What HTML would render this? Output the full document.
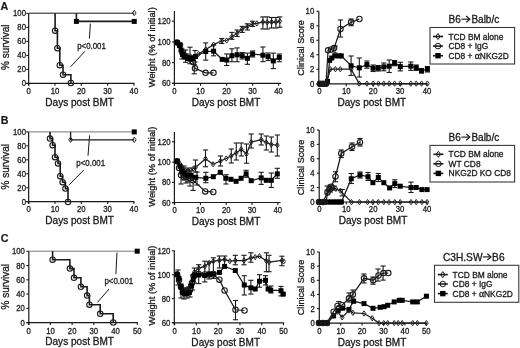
<!DOCTYPE html>
<html><head><meta charset="utf-8"><style>
html,body{margin:0;padding:0;background:#fff;}
svg{display:block;will-change:transform;}
text{font-family:"Liberation Sans", sans-serif;}
</style></head><body>
<svg width="520" height="348" viewBox="0 0 520 348" font-family='"Liberation Sans", sans-serif'>
<rect width="520" height="348" fill="#fff"/>
<line x1="28.65" y1="13.40" x2="28.65" y2="85.80" stroke="#1a1a1a" stroke-width="1.2" />
<line x1="26.25" y1="83.40" x2="134.50" y2="83.40" stroke="#1a1a1a" stroke-width="1.2" />
<line x1="26.25" y1="83.40" x2="28.65" y2="83.40" stroke="#1a1a1a" stroke-width="1.1" />
<text transform="translate(25.95 86.40) scale(0.92 1)" font-size="8.4" text-anchor="end" font-weight="normal" fill="#1a1a1a" stroke="#1a1a1a" stroke-width="0.3" >0</text>
<line x1="26.25" y1="69.40" x2="28.65" y2="69.40" stroke="#1a1a1a" stroke-width="1.1" />
<text transform="translate(25.95 72.40) scale(0.92 1)" font-size="8.4" text-anchor="end" font-weight="normal" fill="#1a1a1a" stroke="#1a1a1a" stroke-width="0.3" >20</text>
<line x1="26.25" y1="55.40" x2="28.65" y2="55.40" stroke="#1a1a1a" stroke-width="1.1" />
<text transform="translate(25.95 58.40) scale(0.92 1)" font-size="8.4" text-anchor="end" font-weight="normal" fill="#1a1a1a" stroke="#1a1a1a" stroke-width="0.3" >40</text>
<line x1="26.25" y1="41.40" x2="28.65" y2="41.40" stroke="#1a1a1a" stroke-width="1.1" />
<text transform="translate(25.95 44.40) scale(0.92 1)" font-size="8.4" text-anchor="end" font-weight="normal" fill="#1a1a1a" stroke="#1a1a1a" stroke-width="0.3" >60</text>
<line x1="26.25" y1="27.40" x2="28.65" y2="27.40" stroke="#1a1a1a" stroke-width="1.1" />
<text transform="translate(25.95 30.40) scale(0.92 1)" font-size="8.4" text-anchor="end" font-weight="normal" fill="#1a1a1a" stroke="#1a1a1a" stroke-width="0.3" >80</text>
<line x1="26.25" y1="13.40" x2="28.65" y2="13.40" stroke="#1a1a1a" stroke-width="1.1" />
<text transform="translate(25.95 16.40) scale(0.92 1)" font-size="8.4" text-anchor="end" font-weight="normal" fill="#1a1a1a" stroke="#1a1a1a" stroke-width="0.3" >100</text>
<line x1="28.70" y1="83.40" x2="28.70" y2="85.80" stroke="#1a1a1a" stroke-width="1.1" />
<text transform="translate(28.70 93.60) scale(0.92 1)" font-size="8.4" text-anchor="middle" font-weight="normal" fill="#1a1a1a" stroke="#1a1a1a" stroke-width="0.3" >0</text>
<line x1="55.00" y1="83.40" x2="55.00" y2="85.80" stroke="#1a1a1a" stroke-width="1.1" />
<text transform="translate(55.00 93.60) scale(0.92 1)" font-size="8.4" text-anchor="middle" font-weight="normal" fill="#1a1a1a" stroke="#1a1a1a" stroke-width="0.3" >10</text>
<line x1="81.30" y1="83.40" x2="81.30" y2="85.80" stroke="#1a1a1a" stroke-width="1.1" />
<text transform="translate(81.30 93.60) scale(0.92 1)" font-size="8.4" text-anchor="middle" font-weight="normal" fill="#1a1a1a" stroke="#1a1a1a" stroke-width="0.3" >20</text>
<line x1="107.60" y1="83.40" x2="107.60" y2="85.80" stroke="#1a1a1a" stroke-width="1.1" />
<text transform="translate(107.60 93.60) scale(0.92 1)" font-size="8.4" text-anchor="middle" font-weight="normal" fill="#1a1a1a" stroke="#1a1a1a" stroke-width="0.3" >30</text>
<line x1="133.90" y1="83.40" x2="133.90" y2="85.80" stroke="#1a1a1a" stroke-width="1.1" />
<text transform="translate(133.90 93.60) scale(0.92 1)" font-size="8.4" text-anchor="middle" font-weight="normal" fill="#1a1a1a" stroke="#1a1a1a" stroke-width="0.3" >40</text>
<line x1="28.65" y1="131.90" x2="28.65" y2="204.10" stroke="#1a1a1a" stroke-width="1.2" />
<line x1="26.25" y1="201.70" x2="134.50" y2="201.70" stroke="#1a1a1a" stroke-width="1.2" />
<line x1="26.25" y1="201.70" x2="28.65" y2="201.70" stroke="#1a1a1a" stroke-width="1.1" />
<text transform="translate(25.95 204.70) scale(0.92 1)" font-size="8.4" text-anchor="end" font-weight="normal" fill="#1a1a1a" stroke="#1a1a1a" stroke-width="0.3" >0</text>
<line x1="26.25" y1="187.74" x2="28.65" y2="187.74" stroke="#1a1a1a" stroke-width="1.1" />
<text transform="translate(25.95 190.74) scale(0.92 1)" font-size="8.4" text-anchor="end" font-weight="normal" fill="#1a1a1a" stroke="#1a1a1a" stroke-width="0.3" >20</text>
<line x1="26.25" y1="173.78" x2="28.65" y2="173.78" stroke="#1a1a1a" stroke-width="1.1" />
<text transform="translate(25.95 176.78) scale(0.92 1)" font-size="8.4" text-anchor="end" font-weight="normal" fill="#1a1a1a" stroke="#1a1a1a" stroke-width="0.3" >40</text>
<line x1="26.25" y1="159.82" x2="28.65" y2="159.82" stroke="#1a1a1a" stroke-width="1.1" />
<text transform="translate(25.95 162.82) scale(0.92 1)" font-size="8.4" text-anchor="end" font-weight="normal" fill="#1a1a1a" stroke="#1a1a1a" stroke-width="0.3" >60</text>
<line x1="26.25" y1="145.86" x2="28.65" y2="145.86" stroke="#1a1a1a" stroke-width="1.1" />
<text transform="translate(25.95 148.86) scale(0.92 1)" font-size="8.4" text-anchor="end" font-weight="normal" fill="#1a1a1a" stroke="#1a1a1a" stroke-width="0.3" >80</text>
<line x1="26.25" y1="131.90" x2="28.65" y2="131.90" stroke="#1a1a1a" stroke-width="1.1" />
<text transform="translate(25.95 134.90) scale(0.92 1)" font-size="8.4" text-anchor="end" font-weight="normal" fill="#1a1a1a" stroke="#1a1a1a" stroke-width="0.3" >100</text>
<line x1="28.70" y1="201.70" x2="28.70" y2="204.10" stroke="#1a1a1a" stroke-width="1.1" />
<text transform="translate(28.70 211.90) scale(0.92 1)" font-size="8.4" text-anchor="middle" font-weight="normal" fill="#1a1a1a" stroke="#1a1a1a" stroke-width="0.3" >0</text>
<line x1="55.00" y1="201.70" x2="55.00" y2="204.10" stroke="#1a1a1a" stroke-width="1.1" />
<text transform="translate(55.00 211.90) scale(0.92 1)" font-size="8.4" text-anchor="middle" font-weight="normal" fill="#1a1a1a" stroke="#1a1a1a" stroke-width="0.3" >10</text>
<line x1="81.30" y1="201.70" x2="81.30" y2="204.10" stroke="#1a1a1a" stroke-width="1.1" />
<text transform="translate(81.30 211.90) scale(0.92 1)" font-size="8.4" text-anchor="middle" font-weight="normal" fill="#1a1a1a" stroke="#1a1a1a" stroke-width="0.3" >20</text>
<line x1="107.60" y1="201.70" x2="107.60" y2="204.10" stroke="#1a1a1a" stroke-width="1.1" />
<text transform="translate(107.60 211.90) scale(0.92 1)" font-size="8.4" text-anchor="middle" font-weight="normal" fill="#1a1a1a" stroke="#1a1a1a" stroke-width="0.3" >30</text>
<line x1="133.90" y1="201.70" x2="133.90" y2="204.10" stroke="#1a1a1a" stroke-width="1.1" />
<text transform="translate(133.90 211.90) scale(0.92 1)" font-size="8.4" text-anchor="middle" font-weight="normal" fill="#1a1a1a" stroke="#1a1a1a" stroke-width="0.3" >40</text>
<line x1="28.80" y1="251.30" x2="28.80" y2="325.00" stroke="#1a1a1a" stroke-width="1.2" />
<line x1="26.40" y1="322.60" x2="137.90" y2="322.60" stroke="#1a1a1a" stroke-width="1.2" />
<line x1="26.40" y1="322.60" x2="28.80" y2="322.60" stroke="#1a1a1a" stroke-width="1.1" />
<text transform="translate(24.90 325.60) scale(0.92 1)" font-size="8.4" text-anchor="end" font-weight="normal" fill="#1a1a1a" stroke="#1a1a1a" stroke-width="0.3" >0</text>
<line x1="26.40" y1="308.34" x2="28.80" y2="308.34" stroke="#1a1a1a" stroke-width="1.1" />
<text transform="translate(24.90 311.34) scale(0.92 1)" font-size="8.4" text-anchor="end" font-weight="normal" fill="#1a1a1a" stroke="#1a1a1a" stroke-width="0.3" >20</text>
<line x1="26.40" y1="294.08" x2="28.80" y2="294.08" stroke="#1a1a1a" stroke-width="1.1" />
<text transform="translate(24.90 297.08) scale(0.92 1)" font-size="8.4" text-anchor="end" font-weight="normal" fill="#1a1a1a" stroke="#1a1a1a" stroke-width="0.3" >40</text>
<line x1="26.40" y1="279.82" x2="28.80" y2="279.82" stroke="#1a1a1a" stroke-width="1.1" />
<text transform="translate(24.90 282.82) scale(0.92 1)" font-size="8.4" text-anchor="end" font-weight="normal" fill="#1a1a1a" stroke="#1a1a1a" stroke-width="0.3" >60</text>
<line x1="26.40" y1="265.56" x2="28.80" y2="265.56" stroke="#1a1a1a" stroke-width="1.1" />
<text transform="translate(24.90 268.56) scale(0.92 1)" font-size="8.4" text-anchor="end" font-weight="normal" fill="#1a1a1a" stroke="#1a1a1a" stroke-width="0.3" >80</text>
<line x1="26.40" y1="251.30" x2="28.80" y2="251.30" stroke="#1a1a1a" stroke-width="1.1" />
<text transform="translate(24.90 254.30) scale(0.92 1)" font-size="8.4" text-anchor="end" font-weight="normal" fill="#1a1a1a" stroke="#1a1a1a" stroke-width="0.3" >100</text>
<line x1="28.70" y1="322.60" x2="28.70" y2="325.00" stroke="#1a1a1a" stroke-width="1.1" />
<text transform="translate(28.70 333.50) scale(0.92 1)" font-size="8.4" text-anchor="middle" font-weight="normal" fill="#1a1a1a" stroke="#1a1a1a" stroke-width="0.3" >0</text>
<line x1="50.42" y1="322.60" x2="50.42" y2="325.00" stroke="#1a1a1a" stroke-width="1.1" />
<text transform="translate(50.42 333.50) scale(0.92 1)" font-size="8.4" text-anchor="middle" font-weight="normal" fill="#1a1a1a" stroke="#1a1a1a" stroke-width="0.3" >10</text>
<line x1="72.14" y1="322.60" x2="72.14" y2="325.00" stroke="#1a1a1a" stroke-width="1.1" />
<text transform="translate(72.14 333.50) scale(0.92 1)" font-size="8.4" text-anchor="middle" font-weight="normal" fill="#1a1a1a" stroke="#1a1a1a" stroke-width="0.3" >20</text>
<line x1="93.86" y1="322.60" x2="93.86" y2="325.00" stroke="#1a1a1a" stroke-width="1.1" />
<text transform="translate(93.86 333.50) scale(0.92 1)" font-size="8.4" text-anchor="middle" font-weight="normal" fill="#1a1a1a" stroke="#1a1a1a" stroke-width="0.3" >30</text>
<line x1="115.58" y1="322.60" x2="115.58" y2="325.00" stroke="#1a1a1a" stroke-width="1.1" />
<text transform="translate(115.58 333.50) scale(0.92 1)" font-size="8.4" text-anchor="middle" font-weight="normal" fill="#1a1a1a" stroke="#1a1a1a" stroke-width="0.3" >40</text>
<line x1="137.30" y1="322.60" x2="137.30" y2="325.00" stroke="#1a1a1a" stroke-width="1.1" />
<text transform="translate(137.30 333.50) scale(0.92 1)" font-size="8.4" text-anchor="middle" font-weight="normal" fill="#1a1a1a" stroke="#1a1a1a" stroke-width="0.3" >50</text>
<line x1="174.40" y1="10.90" x2="174.40" y2="85.80" stroke="#1a1a1a" stroke-width="1.2" />
<line x1="172.00" y1="83.40" x2="281.10" y2="83.40" stroke="#1a1a1a" stroke-width="1.2" />
<line x1="172.00" y1="83.30" x2="174.40" y2="83.30" stroke="#1a1a1a" stroke-width="1.1" />
<text transform="translate(170.50 86.30) scale(0.92 1)" font-size="8.4" text-anchor="end" font-weight="normal" fill="#1a1a1a" stroke="#1a1a1a" stroke-width="0.3" >60</text>
<line x1="172.00" y1="62.60" x2="174.40" y2="62.60" stroke="#1a1a1a" stroke-width="1.1" />
<text transform="translate(170.50 65.60) scale(0.92 1)" font-size="8.4" text-anchor="end" font-weight="normal" fill="#1a1a1a" stroke="#1a1a1a" stroke-width="0.3" >80</text>
<line x1="172.00" y1="41.90" x2="174.40" y2="41.90" stroke="#1a1a1a" stroke-width="1.1" />
<text transform="translate(170.50 44.90) scale(0.92 1)" font-size="8.4" text-anchor="end" font-weight="normal" fill="#1a1a1a" stroke="#1a1a1a" stroke-width="0.3" >100</text>
<line x1="172.00" y1="21.20" x2="174.40" y2="21.20" stroke="#1a1a1a" stroke-width="1.1" />
<text transform="translate(170.50 24.20) scale(0.92 1)" font-size="8.4" text-anchor="end" font-weight="normal" fill="#1a1a1a" stroke="#1a1a1a" stroke-width="0.3" >120</text>
<line x1="174.50" y1="83.40" x2="174.50" y2="85.80" stroke="#1a1a1a" stroke-width="1.1" />
<text transform="translate(174.50 93.60) scale(0.92 1)" font-size="8.4" text-anchor="middle" font-weight="normal" fill="#1a1a1a" stroke="#1a1a1a" stroke-width="0.3" >0</text>
<line x1="200.53" y1="83.40" x2="200.53" y2="85.80" stroke="#1a1a1a" stroke-width="1.1" />
<text transform="translate(200.53 93.60) scale(0.92 1)" font-size="8.4" text-anchor="middle" font-weight="normal" fill="#1a1a1a" stroke="#1a1a1a" stroke-width="0.3" >10</text>
<line x1="226.55" y1="83.40" x2="226.55" y2="85.80" stroke="#1a1a1a" stroke-width="1.1" />
<text transform="translate(226.55 93.60) scale(0.92 1)" font-size="8.4" text-anchor="middle" font-weight="normal" fill="#1a1a1a" stroke="#1a1a1a" stroke-width="0.3" >20</text>
<line x1="252.58" y1="83.40" x2="252.58" y2="85.80" stroke="#1a1a1a" stroke-width="1.1" />
<text transform="translate(252.58 93.60) scale(0.92 1)" font-size="8.4" text-anchor="middle" font-weight="normal" fill="#1a1a1a" stroke="#1a1a1a" stroke-width="0.3" >30</text>
<line x1="278.60" y1="83.40" x2="278.60" y2="85.80" stroke="#1a1a1a" stroke-width="1.1" />
<text transform="translate(278.60 93.60) scale(0.92 1)" font-size="8.4" text-anchor="middle" font-weight="normal" fill="#1a1a1a" stroke="#1a1a1a" stroke-width="0.3" >40</text>
<line x1="174.40" y1="132.10" x2="174.40" y2="204.90" stroke="#1a1a1a" stroke-width="1.2" />
<line x1="172.00" y1="202.50" x2="280.60" y2="202.50" stroke="#1a1a1a" stroke-width="1.2" />
<line x1="172.00" y1="202.70" x2="174.40" y2="202.70" stroke="#1a1a1a" stroke-width="1.1" />
<text transform="translate(170.50 205.70) scale(0.92 1)" font-size="8.4" text-anchor="end" font-weight="normal" fill="#1a1a1a" stroke="#1a1a1a" stroke-width="0.3" >60</text>
<line x1="172.00" y1="182.40" x2="174.40" y2="182.40" stroke="#1a1a1a" stroke-width="1.1" />
<text transform="translate(170.50 185.40) scale(0.92 1)" font-size="8.4" text-anchor="end" font-weight="normal" fill="#1a1a1a" stroke="#1a1a1a" stroke-width="0.3" >80</text>
<line x1="172.00" y1="162.10" x2="174.40" y2="162.10" stroke="#1a1a1a" stroke-width="1.1" />
<text transform="translate(170.50 165.10) scale(0.92 1)" font-size="8.4" text-anchor="end" font-weight="normal" fill="#1a1a1a" stroke="#1a1a1a" stroke-width="0.3" >100</text>
<line x1="172.00" y1="141.80" x2="174.40" y2="141.80" stroke="#1a1a1a" stroke-width="1.1" />
<text transform="translate(170.50 144.80) scale(0.92 1)" font-size="8.4" text-anchor="end" font-weight="normal" fill="#1a1a1a" stroke="#1a1a1a" stroke-width="0.3" >120</text>
<line x1="174.60" y1="202.50" x2="174.60" y2="204.90" stroke="#1a1a1a" stroke-width="1.1" />
<text transform="translate(174.60 212.70) scale(0.92 1)" font-size="8.4" text-anchor="middle" font-weight="normal" fill="#1a1a1a" stroke="#1a1a1a" stroke-width="0.3" >0</text>
<line x1="200.40" y1="202.50" x2="200.40" y2="204.90" stroke="#1a1a1a" stroke-width="1.1" />
<text transform="translate(200.40 212.70) scale(0.92 1)" font-size="8.4" text-anchor="middle" font-weight="normal" fill="#1a1a1a" stroke="#1a1a1a" stroke-width="0.3" >10</text>
<line x1="226.20" y1="202.50" x2="226.20" y2="204.90" stroke="#1a1a1a" stroke-width="1.1" />
<text transform="translate(226.20 212.70) scale(0.92 1)" font-size="8.4" text-anchor="middle" font-weight="normal" fill="#1a1a1a" stroke="#1a1a1a" stroke-width="0.3" >20</text>
<line x1="252.00" y1="202.50" x2="252.00" y2="204.90" stroke="#1a1a1a" stroke-width="1.1" />
<text transform="translate(252.00 212.70) scale(0.92 1)" font-size="8.4" text-anchor="middle" font-weight="normal" fill="#1a1a1a" stroke="#1a1a1a" stroke-width="0.3" >30</text>
<line x1="277.80" y1="202.50" x2="277.80" y2="204.90" stroke="#1a1a1a" stroke-width="1.1" />
<text transform="translate(277.80 212.70) scale(0.92 1)" font-size="8.4" text-anchor="middle" font-weight="normal" fill="#1a1a1a" stroke="#1a1a1a" stroke-width="0.3" >40</text>
<line x1="174.30" y1="250.40" x2="174.30" y2="325.20" stroke="#1a1a1a" stroke-width="1.2" />
<line x1="171.90" y1="322.80" x2="284.10" y2="322.80" stroke="#1a1a1a" stroke-width="1.2" />
<line x1="171.90" y1="322.50" x2="174.30" y2="322.50" stroke="#1a1a1a" stroke-width="1.1" />
<text transform="translate(170.40 325.50) scale(0.92 1)" font-size="8.4" text-anchor="end" font-weight="normal" fill="#1a1a1a" stroke="#1a1a1a" stroke-width="0.3" >60</text>
<line x1="171.90" y1="298.60" x2="174.30" y2="298.60" stroke="#1a1a1a" stroke-width="1.1" />
<text transform="translate(170.40 301.60) scale(0.92 1)" font-size="8.4" text-anchor="end" font-weight="normal" fill="#1a1a1a" stroke="#1a1a1a" stroke-width="0.3" >80</text>
<line x1="171.90" y1="274.70" x2="174.30" y2="274.70" stroke="#1a1a1a" stroke-width="1.1" />
<text transform="translate(170.40 277.70) scale(0.92 1)" font-size="8.4" text-anchor="end" font-weight="normal" fill="#1a1a1a" stroke="#1a1a1a" stroke-width="0.3" >100</text>
<line x1="171.90" y1="250.80" x2="174.30" y2="250.80" stroke="#1a1a1a" stroke-width="1.1" />
<text transform="translate(170.40 253.80) scale(0.92 1)" font-size="8.4" text-anchor="end" font-weight="normal" fill="#1a1a1a" stroke="#1a1a1a" stroke-width="0.3" >120</text>
<line x1="174.60" y1="322.80" x2="174.60" y2="325.20" stroke="#1a1a1a" stroke-width="1.1" />
<text transform="translate(174.60 333.70) scale(0.92 1)" font-size="8.4" text-anchor="middle" font-weight="normal" fill="#1a1a1a" stroke="#1a1a1a" stroke-width="0.3" >0</text>
<line x1="196.38" y1="322.80" x2="196.38" y2="325.20" stroke="#1a1a1a" stroke-width="1.1" />
<text transform="translate(196.38 333.70) scale(0.92 1)" font-size="8.4" text-anchor="middle" font-weight="normal" fill="#1a1a1a" stroke="#1a1a1a" stroke-width="0.3" >10</text>
<line x1="218.16" y1="322.80" x2="218.16" y2="325.20" stroke="#1a1a1a" stroke-width="1.1" />
<text transform="translate(218.16 333.70) scale(0.92 1)" font-size="8.4" text-anchor="middle" font-weight="normal" fill="#1a1a1a" stroke="#1a1a1a" stroke-width="0.3" >20</text>
<line x1="239.94" y1="322.80" x2="239.94" y2="325.20" stroke="#1a1a1a" stroke-width="1.1" />
<text transform="translate(239.94 333.70) scale(0.92 1)" font-size="8.4" text-anchor="middle" font-weight="normal" fill="#1a1a1a" stroke="#1a1a1a" stroke-width="0.3" >30</text>
<line x1="261.72" y1="322.80" x2="261.72" y2="325.20" stroke="#1a1a1a" stroke-width="1.1" />
<text transform="translate(261.72 333.70) scale(0.92 1)" font-size="8.4" text-anchor="middle" font-weight="normal" fill="#1a1a1a" stroke="#1a1a1a" stroke-width="0.3" >40</text>
<line x1="283.50" y1="322.80" x2="283.50" y2="325.20" stroke="#1a1a1a" stroke-width="1.1" />
<text transform="translate(283.50 333.70) scale(0.92 1)" font-size="8.4" text-anchor="middle" font-weight="normal" fill="#1a1a1a" stroke="#1a1a1a" stroke-width="0.3" >50</text>
<line x1="318.80" y1="11.30" x2="318.80" y2="86.20" stroke="#1a1a1a" stroke-width="1.2" />
<line x1="316.40" y1="83.80" x2="427.60" y2="83.80" stroke="#1a1a1a" stroke-width="1.2" />
<line x1="316.40" y1="83.80" x2="318.80" y2="83.80" stroke="#1a1a1a" stroke-width="1.1" />
<text transform="translate(314.20 86.80) scale(0.92 1)" font-size="8.4" text-anchor="end" font-weight="normal" fill="#1a1a1a" stroke="#1a1a1a" stroke-width="0.3" >0</text>
<line x1="316.40" y1="69.30" x2="318.80" y2="69.30" stroke="#1a1a1a" stroke-width="1.1" />
<text transform="translate(314.20 72.30) scale(0.92 1)" font-size="8.4" text-anchor="end" font-weight="normal" fill="#1a1a1a" stroke="#1a1a1a" stroke-width="0.3" >2</text>
<line x1="316.40" y1="54.80" x2="318.80" y2="54.80" stroke="#1a1a1a" stroke-width="1.1" />
<text transform="translate(314.20 57.80) scale(0.92 1)" font-size="8.4" text-anchor="end" font-weight="normal" fill="#1a1a1a" stroke="#1a1a1a" stroke-width="0.3" >4</text>
<line x1="316.40" y1="40.30" x2="318.80" y2="40.30" stroke="#1a1a1a" stroke-width="1.1" />
<text transform="translate(314.20 43.30) scale(0.92 1)" font-size="8.4" text-anchor="end" font-weight="normal" fill="#1a1a1a" stroke="#1a1a1a" stroke-width="0.3" >6</text>
<line x1="316.40" y1="25.80" x2="318.80" y2="25.80" stroke="#1a1a1a" stroke-width="1.1" />
<text transform="translate(314.20 28.80) scale(0.92 1)" font-size="8.4" text-anchor="end" font-weight="normal" fill="#1a1a1a" stroke="#1a1a1a" stroke-width="0.3" >8</text>
<line x1="316.40" y1="11.30" x2="318.80" y2="11.30" stroke="#1a1a1a" stroke-width="1.1" />
<text transform="translate(314.20 14.30) scale(0.92 1)" font-size="8.4" text-anchor="end" font-weight="normal" fill="#1a1a1a" stroke="#1a1a1a" stroke-width="0.3" >10</text>
<line x1="319.30" y1="83.80" x2="319.30" y2="86.20" stroke="#1a1a1a" stroke-width="1.1" />
<text transform="translate(319.30 94.00) scale(0.92 1)" font-size="8.4" text-anchor="middle" font-weight="normal" fill="#1a1a1a" stroke="#1a1a1a" stroke-width="0.3" >0</text>
<line x1="346.23" y1="83.80" x2="346.23" y2="86.20" stroke="#1a1a1a" stroke-width="1.1" />
<text transform="translate(346.23 94.00) scale(0.92 1)" font-size="8.4" text-anchor="middle" font-weight="normal" fill="#1a1a1a" stroke="#1a1a1a" stroke-width="0.3" >10</text>
<line x1="373.15" y1="83.80" x2="373.15" y2="86.20" stroke="#1a1a1a" stroke-width="1.1" />
<text transform="translate(373.15 94.00) scale(0.92 1)" font-size="8.4" text-anchor="middle" font-weight="normal" fill="#1a1a1a" stroke="#1a1a1a" stroke-width="0.3" >20</text>
<line x1="400.07" y1="83.80" x2="400.07" y2="86.20" stroke="#1a1a1a" stroke-width="1.1" />
<text transform="translate(400.07 94.00) scale(0.92 1)" font-size="8.4" text-anchor="middle" font-weight="normal" fill="#1a1a1a" stroke="#1a1a1a" stroke-width="0.3" >30</text>
<line x1="427.00" y1="83.80" x2="427.00" y2="86.20" stroke="#1a1a1a" stroke-width="1.1" />
<text transform="translate(427.00 94.00) scale(0.92 1)" font-size="8.4" text-anchor="middle" font-weight="normal" fill="#1a1a1a" stroke="#1a1a1a" stroke-width="0.3" >40</text>
<line x1="319.20" y1="130.00" x2="319.20" y2="204.40" stroke="#1a1a1a" stroke-width="1.2" />
<line x1="316.80" y1="202.00" x2="427.60" y2="202.00" stroke="#1a1a1a" stroke-width="1.2" />
<line x1="316.80" y1="201.90" x2="319.20" y2="201.90" stroke="#1a1a1a" stroke-width="1.1" />
<text transform="translate(314.60 204.90) scale(0.92 1)" font-size="8.4" text-anchor="end" font-weight="normal" fill="#1a1a1a" stroke="#1a1a1a" stroke-width="0.3" >0</text>
<line x1="316.80" y1="187.52" x2="319.20" y2="187.52" stroke="#1a1a1a" stroke-width="1.1" />
<text transform="translate(314.60 190.52) scale(0.92 1)" font-size="8.4" text-anchor="end" font-weight="normal" fill="#1a1a1a" stroke="#1a1a1a" stroke-width="0.3" >2</text>
<line x1="316.80" y1="173.14" x2="319.20" y2="173.14" stroke="#1a1a1a" stroke-width="1.1" />
<text transform="translate(314.60 176.14) scale(0.92 1)" font-size="8.4" text-anchor="end" font-weight="normal" fill="#1a1a1a" stroke="#1a1a1a" stroke-width="0.3" >4</text>
<line x1="316.80" y1="158.76" x2="319.20" y2="158.76" stroke="#1a1a1a" stroke-width="1.1" />
<text transform="translate(314.60 161.76) scale(0.92 1)" font-size="8.4" text-anchor="end" font-weight="normal" fill="#1a1a1a" stroke="#1a1a1a" stroke-width="0.3" >6</text>
<line x1="316.80" y1="144.38" x2="319.20" y2="144.38" stroke="#1a1a1a" stroke-width="1.1" />
<text transform="translate(314.60 147.38) scale(0.92 1)" font-size="8.4" text-anchor="end" font-weight="normal" fill="#1a1a1a" stroke="#1a1a1a" stroke-width="0.3" >8</text>
<line x1="316.80" y1="130.00" x2="319.20" y2="130.00" stroke="#1a1a1a" stroke-width="1.1" />
<text transform="translate(314.60 133.00) scale(0.92 1)" font-size="8.4" text-anchor="end" font-weight="normal" fill="#1a1a1a" stroke="#1a1a1a" stroke-width="0.3" >10</text>
<line x1="319.30" y1="202.00" x2="319.30" y2="204.40" stroke="#1a1a1a" stroke-width="1.1" />
<text transform="translate(319.30 212.20) scale(0.92 1)" font-size="8.4" text-anchor="middle" font-weight="normal" fill="#1a1a1a" stroke="#1a1a1a" stroke-width="0.3" >0</text>
<line x1="346.23" y1="202.00" x2="346.23" y2="204.40" stroke="#1a1a1a" stroke-width="1.1" />
<text transform="translate(346.23 212.20) scale(0.92 1)" font-size="8.4" text-anchor="middle" font-weight="normal" fill="#1a1a1a" stroke="#1a1a1a" stroke-width="0.3" >10</text>
<line x1="373.15" y1="202.00" x2="373.15" y2="204.40" stroke="#1a1a1a" stroke-width="1.1" />
<text transform="translate(373.15 212.20) scale(0.92 1)" font-size="8.4" text-anchor="middle" font-weight="normal" fill="#1a1a1a" stroke="#1a1a1a" stroke-width="0.3" >20</text>
<line x1="400.07" y1="202.00" x2="400.07" y2="204.40" stroke="#1a1a1a" stroke-width="1.1" />
<text transform="translate(400.07 212.20) scale(0.92 1)" font-size="8.4" text-anchor="middle" font-weight="normal" fill="#1a1a1a" stroke="#1a1a1a" stroke-width="0.3" >30</text>
<line x1="427.00" y1="202.00" x2="427.00" y2="204.40" stroke="#1a1a1a" stroke-width="1.1" />
<text transform="translate(427.00 212.20) scale(0.92 1)" font-size="8.4" text-anchor="middle" font-weight="normal" fill="#1a1a1a" stroke="#1a1a1a" stroke-width="0.3" >40</text>
<line x1="319.30" y1="252.00" x2="319.30" y2="325.50" stroke="#1a1a1a" stroke-width="1.2" />
<line x1="316.90" y1="323.10" x2="426.90" y2="323.10" stroke="#1a1a1a" stroke-width="1.2" />
<line x1="316.90" y1="322.80" x2="319.30" y2="322.80" stroke="#1a1a1a" stroke-width="1.1" />
<text transform="translate(314.70 325.80) scale(0.92 1)" font-size="8.4" text-anchor="end" font-weight="normal" fill="#1a1a1a" stroke="#1a1a1a" stroke-width="0.3" >0</text>
<line x1="316.90" y1="308.64" x2="319.30" y2="308.64" stroke="#1a1a1a" stroke-width="1.1" />
<text transform="translate(314.70 311.64) scale(0.92 1)" font-size="8.4" text-anchor="end" font-weight="normal" fill="#1a1a1a" stroke="#1a1a1a" stroke-width="0.3" >2</text>
<line x1="316.90" y1="294.48" x2="319.30" y2="294.48" stroke="#1a1a1a" stroke-width="1.1" />
<text transform="translate(314.70 297.48) scale(0.92 1)" font-size="8.4" text-anchor="end" font-weight="normal" fill="#1a1a1a" stroke="#1a1a1a" stroke-width="0.3" >4</text>
<line x1="316.90" y1="280.32" x2="319.30" y2="280.32" stroke="#1a1a1a" stroke-width="1.1" />
<text transform="translate(314.70 283.32) scale(0.92 1)" font-size="8.4" text-anchor="end" font-weight="normal" fill="#1a1a1a" stroke="#1a1a1a" stroke-width="0.3" >6</text>
<line x1="316.90" y1="266.16" x2="319.30" y2="266.16" stroke="#1a1a1a" stroke-width="1.1" />
<text transform="translate(314.70 269.16) scale(0.92 1)" font-size="8.4" text-anchor="end" font-weight="normal" fill="#1a1a1a" stroke="#1a1a1a" stroke-width="0.3" >8</text>
<line x1="316.90" y1="252.00" x2="319.30" y2="252.00" stroke="#1a1a1a" stroke-width="1.1" />
<text transform="translate(314.70 255.00) scale(0.92 1)" font-size="8.4" text-anchor="end" font-weight="normal" fill="#1a1a1a" stroke="#1a1a1a" stroke-width="0.3" >10</text>
<line x1="319.30" y1="323.10" x2="319.30" y2="325.50" stroke="#1a1a1a" stroke-width="1.1" />
<text transform="translate(319.30 334.00) scale(0.92 1)" font-size="8.4" text-anchor="middle" font-weight="normal" fill="#1a1a1a" stroke="#1a1a1a" stroke-width="0.3" >0</text>
<line x1="340.70" y1="323.10" x2="340.70" y2="325.50" stroke="#1a1a1a" stroke-width="1.1" />
<text transform="translate(340.70 334.00) scale(0.92 1)" font-size="8.4" text-anchor="middle" font-weight="normal" fill="#1a1a1a" stroke="#1a1a1a" stroke-width="0.3" >10</text>
<line x1="362.10" y1="323.10" x2="362.10" y2="325.50" stroke="#1a1a1a" stroke-width="1.1" />
<text transform="translate(362.10 334.00) scale(0.92 1)" font-size="8.4" text-anchor="middle" font-weight="normal" fill="#1a1a1a" stroke="#1a1a1a" stroke-width="0.3" >20</text>
<line x1="383.50" y1="323.10" x2="383.50" y2="325.50" stroke="#1a1a1a" stroke-width="1.1" />
<text transform="translate(383.50 334.00) scale(0.92 1)" font-size="8.4" text-anchor="middle" font-weight="normal" fill="#1a1a1a" stroke="#1a1a1a" stroke-width="0.3" >30</text>
<line x1="404.90" y1="323.10" x2="404.90" y2="325.50" stroke="#1a1a1a" stroke-width="1.1" />
<text transform="translate(404.90 334.00) scale(0.92 1)" font-size="8.4" text-anchor="middle" font-weight="normal" fill="#1a1a1a" stroke="#1a1a1a" stroke-width="0.3" >40</text>
<line x1="426.30" y1="323.10" x2="426.30" y2="325.50" stroke="#1a1a1a" stroke-width="1.1" />
<text transform="translate(426.30 334.00) scale(0.92 1)" font-size="8.4" text-anchor="middle" font-weight="normal" fill="#1a1a1a" stroke="#1a1a1a" stroke-width="0.3" >50</text>
<text transform="translate(8.60 47.20) rotate(-90)" font-size="10" text-anchor="middle" font-weight="normal" fill="#1a1a1a" stroke="#1a1a1a" stroke-width="0.3" >% survival</text>
<text transform="translate(155.40 47.20) rotate(-90)" font-size="9.3" text-anchor="middle" font-weight="normal" fill="#1a1a1a" stroke="#1a1a1a" stroke-width="0.3" >Weight (% of initial)</text>
<text transform="translate(303.50 47.90) rotate(-90)" font-size="9.1" text-anchor="middle" font-weight="normal" fill="#1a1a1a" stroke="#1a1a1a" stroke-width="0.3" >Clinical Score</text>
<text transform="translate(8.60 166.70) rotate(-90)" font-size="10" text-anchor="middle" font-weight="normal" fill="#1a1a1a" stroke="#1a1a1a" stroke-width="0.3" >% survival</text>
<text transform="translate(155.40 166.70) rotate(-90)" font-size="9.3" text-anchor="middle" font-weight="normal" fill="#1a1a1a" stroke="#1a1a1a" stroke-width="0.3" >Weight (% of initial)</text>
<text transform="translate(303.50 167.40) rotate(-90)" font-size="9.1" text-anchor="middle" font-weight="normal" fill="#1a1a1a" stroke="#1a1a1a" stroke-width="0.3" >Clinical Score</text>
<text transform="translate(8.60 286.70) rotate(-90)" font-size="10" text-anchor="middle" font-weight="normal" fill="#1a1a1a" stroke="#1a1a1a" stroke-width="0.3" >% survival</text>
<text transform="translate(155.40 285.50) rotate(-90)" font-size="9.3" text-anchor="middle" font-weight="normal" fill="#1a1a1a" stroke="#1a1a1a" stroke-width="0.3" >Weight (% of initial)</text>
<text transform="translate(303.50 287.40) rotate(-90)" font-size="9.1" text-anchor="middle" font-weight="normal" fill="#1a1a1a" stroke="#1a1a1a" stroke-width="0.3" >Clinical Score</text>
<text transform="translate(79.65 105.60)" font-size="10.05" text-anchor="middle" font-weight="normal" fill="#1a1a1a" stroke="#1a1a1a" stroke-width="0.3" >Days post BMT</text>
<text transform="translate(226.00 105.60)" font-size="10.05" text-anchor="middle" font-weight="normal" fill="#1a1a1a" stroke="#1a1a1a" stroke-width="0.3" >Days post BMT</text>
<text transform="translate(371.80 106.00)" font-size="10.05" text-anchor="middle" font-weight="normal" fill="#1a1a1a" stroke="#1a1a1a" stroke-width="0.3" >Days post BMT</text>
<text transform="translate(79.65 223.90)" font-size="10.05" text-anchor="middle" font-weight="normal" fill="#1a1a1a" stroke="#1a1a1a" stroke-width="0.3" >Days post BMT</text>
<text transform="translate(226.00 224.70)" font-size="10.05" text-anchor="middle" font-weight="normal" fill="#1a1a1a" stroke="#1a1a1a" stroke-width="0.3" >Days post BMT</text>
<text transform="translate(373.00 224.20)" font-size="10.05" text-anchor="middle" font-weight="normal" fill="#1a1a1a" stroke="#1a1a1a" stroke-width="0.3" >Days post BMT</text>
<text transform="translate(79.60 345.40)" font-size="10.05" text-anchor="middle" font-weight="normal" fill="#1a1a1a" stroke="#1a1a1a" stroke-width="0.3" >Days post BMT</text>
<text transform="translate(225.70 345.60)" font-size="10.05" text-anchor="middle" font-weight="normal" fill="#1a1a1a" stroke="#1a1a1a" stroke-width="0.3" >Days post BMT</text>
<text transform="translate(372.00 345.90)" font-size="10.05" text-anchor="middle" font-weight="normal" fill="#1a1a1a" stroke="#1a1a1a" stroke-width="0.3" >Days post BMT</text>
<text transform="translate(0.60 9.90)" font-size="10.7" text-anchor="start" font-weight="bold" fill="#1a1a1a" stroke="#1a1a1a" stroke-width="0.2" >A</text>
<text transform="translate(0.80 123.90)" font-size="10.7" text-anchor="start" font-weight="bold" fill="#1a1a1a" stroke="#1a1a1a" stroke-width="0.2" >B</text>
<text transform="translate(0.80 241.90)" font-size="10.7" text-anchor="start" font-weight="bold" fill="#1a1a1a" stroke="#1a1a1a" stroke-width="0.2" >C</text>
<line x1="29.00" y1="13.20" x2="134.25" y2="13.20" stroke="#1a1a1a" stroke-width="1.0" />
<path d="M134.25,10.35 L136.10,13.00 L134.25,15.65 L132.40,13.00 Z" fill="none" stroke="#1a1a1a" stroke-width="0.95" stroke-linejoin="round"/>
<polyline points="76.40,13.20 76.40,21.40 134.25,21.40" fill="none" stroke="#1a1a1a" stroke-width="1.6" stroke-linejoin="miter"/>
<rect x="73.90" y="18.90" width="5.0" height="5.0" fill="#000"/>
<rect x="131.75" y="18.90" width="5.0" height="5.0" fill="#000"/>
<polyline points="55.10,13.20 55.10,13.20 55.10,30.70 57.40,30.70 57.40,48.20 59.80,48.20 59.80,65.20 63.00,65.20 63.00,74.70 70.90,74.70 70.90,83.00" fill="none" stroke="#1a1a1a" stroke-width="1.6" stroke-linejoin="miter"/>
<circle cx="55.10" cy="30.70" r="2.7" fill="none" stroke="#1a1a1a" stroke-width="1.1"/>
<circle cx="57.40" cy="48.20" r="2.7" fill="none" stroke="#1a1a1a" stroke-width="1.1"/>
<circle cx="59.80" cy="65.20" r="2.7" fill="none" stroke="#1a1a1a" stroke-width="1.1"/>
<circle cx="63.00" cy="74.70" r="2.7" fill="none" stroke="#1a1a1a" stroke-width="1.1"/>
<circle cx="70.90" cy="83.00" r="2.7" fill="none" stroke="#1a1a1a" stroke-width="1.1"/>
<line x1="90.40" y1="23.60" x2="89.40" y2="38.60" stroke="#1a1a1a" stroke-width="1.0" />
<text transform="translate(91.50 48.60) scale(0.93 1)" font-size="8.5" text-anchor="middle" font-weight="normal" fill="#1a1a1a" stroke="#1a1a1a" stroke-width="0.3" >p&lt;0.001</text>
<line x1="85.00" y1="51.20" x2="70.60" y2="66.80" stroke="#1a1a1a" stroke-width="1.0" />
<line x1="29.00" y1="131.90" x2="134.25" y2="131.90" stroke="#777" stroke-width="1.0" />
<rect x="131.75" y="129.40" width="5.0" height="5.0" fill="#000"/>
<polyline points="70.60,131.90 70.60,139.80 134.25,139.80" fill="none" stroke="#1a1a1a" stroke-width="1.3" stroke-linejoin="miter"/>
<path d="M70.60,137.15 L72.45,139.80 L70.60,142.45 L68.75,139.80 Z" fill="none" stroke="#1a1a1a" stroke-width="0.95" stroke-linejoin="round"/>
<path d="M134.25,137.15 L136.10,139.80 L134.25,142.45 L132.40,139.80 Z" fill="none" stroke="#1a1a1a" stroke-width="0.95" stroke-linejoin="round"/>
<polyline points="50.00,131.90 50.00,131.90 50.00,138.60 52.60,138.60 52.60,145.20 55.00,145.20 55.00,157.20 58.00,157.20 58.00,163.40 60.20,163.40 60.20,176.20 62.60,176.20 62.60,182.20 65.40,182.20 65.40,188.60 68.00,188.60 68.00,202.00" fill="none" stroke="#1a1a1a" stroke-width="1.6" stroke-linejoin="miter"/>
<circle cx="50.00" cy="138.60" r="2.7" fill="none" stroke="#1a1a1a" stroke-width="1.1"/>
<circle cx="52.60" cy="145.20" r="2.7" fill="none" stroke="#1a1a1a" stroke-width="1.1"/>
<circle cx="55.00" cy="157.20" r="2.7" fill="none" stroke="#1a1a1a" stroke-width="1.1"/>
<circle cx="58.00" cy="163.40" r="2.7" fill="none" stroke="#1a1a1a" stroke-width="1.1"/>
<circle cx="60.20" cy="176.20" r="2.7" fill="none" stroke="#1a1a1a" stroke-width="1.1"/>
<circle cx="62.60" cy="182.20" r="2.7" fill="none" stroke="#1a1a1a" stroke-width="1.1"/>
<circle cx="65.40" cy="188.60" r="2.7" fill="none" stroke="#1a1a1a" stroke-width="1.1"/>
<circle cx="68.00" cy="202.00" r="2.7" fill="none" stroke="#1a1a1a" stroke-width="1.1"/>
<line x1="89.60" y1="135.40" x2="88.00" y2="155.80" stroke="#1a1a1a" stroke-width="1.0" />
<text transform="translate(90.70 165.60) scale(0.93 1)" font-size="8.5" text-anchor="middle" font-weight="normal" fill="#1a1a1a" stroke="#1a1a1a" stroke-width="0.3" >p&lt;0.001</text>
<line x1="83.80" y1="170.00" x2="69.20" y2="184.80" stroke="#1a1a1a" stroke-width="1.0" />
<line x1="29.00" y1="251.20" x2="137.00" y2="251.20" stroke="#777" stroke-width="1.0" />
<rect x="134.70" y="248.70" width="5.0" height="5.0" fill="#000"/>
<polyline points="52.60,251.20 52.60,251.20 52.60,259.70 69.90,259.70 69.90,268.60 74.00,268.60 74.00,277.80 80.90,277.80 80.90,286.80 87.10,286.80 87.10,295.60 89.40,295.60 89.40,304.70 100.20,304.70 100.20,313.80 113.20,313.80 113.20,322.50" fill="none" stroke="#1a1a1a" stroke-width="1.6" stroke-linejoin="miter"/>
<circle cx="52.60" cy="259.70" r="2.7" fill="none" stroke="#1a1a1a" stroke-width="1.1"/>
<circle cx="69.90" cy="268.60" r="2.7" fill="none" stroke="#1a1a1a" stroke-width="1.1"/>
<circle cx="74.00" cy="277.80" r="2.7" fill="none" stroke="#1a1a1a" stroke-width="1.1"/>
<circle cx="80.90" cy="286.80" r="2.7" fill="none" stroke="#1a1a1a" stroke-width="1.1"/>
<circle cx="87.10" cy="295.60" r="2.7" fill="none" stroke="#1a1a1a" stroke-width="1.1"/>
<circle cx="89.40" cy="304.70" r="2.7" fill="none" stroke="#1a1a1a" stroke-width="1.1"/>
<circle cx="100.20" cy="313.80" r="2.7" fill="none" stroke="#1a1a1a" stroke-width="1.1"/>
<circle cx="113.20" cy="322.50" r="2.7" fill="none" stroke="#1a1a1a" stroke-width="1.1"/>
<line x1="117.00" y1="252.60" x2="115.90" y2="274.00" stroke="#1a1a1a" stroke-width="1.0" />
<text transform="translate(118.80 284.00) scale(0.93 1)" font-size="8.5" text-anchor="middle" font-weight="normal" fill="#1a1a1a" stroke="#1a1a1a" stroke-width="0.3" >p&lt;0.001</text>
<line x1="109.00" y1="289.00" x2="97.50" y2="302.40" stroke="#1a1a1a" stroke-width="1.0" />
<line x1="185.60" y1="50.00" x2="185.60" y2="62.30" stroke="#1a1a1a" stroke-width="1.1" />
<line x1="183.00" y1="50.00" x2="188.20" y2="50.00" stroke="#1a1a1a" stroke-width="1.1" />
<line x1="183.00" y1="62.30" x2="188.20" y2="62.30" stroke="#1a1a1a" stroke-width="1.1" />
<line x1="190.00" y1="47.20" x2="190.00" y2="63.70" stroke="#1a1a1a" stroke-width="1.1" />
<line x1="187.40" y1="47.20" x2="192.60" y2="47.20" stroke="#1a1a1a" stroke-width="1.1" />
<line x1="187.40" y1="63.70" x2="192.60" y2="63.70" stroke="#1a1a1a" stroke-width="1.1" />
<line x1="195.00" y1="50.50" x2="195.00" y2="62.00" stroke="#1a1a1a" stroke-width="1.1" />
<line x1="192.40" y1="50.50" x2="197.60" y2="50.50" stroke="#1a1a1a" stroke-width="1.1" />
<line x1="192.40" y1="62.00" x2="197.60" y2="62.00" stroke="#1a1a1a" stroke-width="1.1" />
<line x1="182.00" y1="49.00" x2="182.00" y2="59.00" stroke="#1a1a1a" stroke-width="1.1" />
<line x1="179.40" y1="49.00" x2="184.60" y2="49.00" stroke="#1a1a1a" stroke-width="1.1" />
<line x1="179.40" y1="59.00" x2="184.60" y2="59.00" stroke="#1a1a1a" stroke-width="1.1" />
<line x1="194.20" y1="64.40" x2="194.20" y2="73.80" stroke="#1a1a1a" stroke-width="1.1" />
<line x1="191.60" y1="64.40" x2="196.80" y2="64.40" stroke="#1a1a1a" stroke-width="1.1" />
<line x1="191.60" y1="73.80" x2="196.80" y2="73.80" stroke="#1a1a1a" stroke-width="1.1" />
<line x1="205.70" y1="42.90" x2="205.70" y2="60.10" stroke="#1a1a1a" stroke-width="1.1" />
<line x1="203.10" y1="42.90" x2="208.30" y2="42.90" stroke="#1a1a1a" stroke-width="1.1" />
<line x1="203.10" y1="60.10" x2="208.30" y2="60.10" stroke="#1a1a1a" stroke-width="1.1" />
<line x1="213.60" y1="45.00" x2="213.60" y2="55.80" stroke="#1a1a1a" stroke-width="1.1" />
<line x1="211.00" y1="45.00" x2="216.20" y2="45.00" stroke="#1a1a1a" stroke-width="1.1" />
<line x1="211.00" y1="55.80" x2="216.20" y2="55.80" stroke="#1a1a1a" stroke-width="1.1" />
<line x1="226.70" y1="54.00" x2="226.70" y2="65.50" stroke="#1a1a1a" stroke-width="1.1" />
<line x1="224.10" y1="54.00" x2="229.30" y2="54.00" stroke="#1a1a1a" stroke-width="1.1" />
<line x1="224.10" y1="65.50" x2="229.30" y2="65.50" stroke="#1a1a1a" stroke-width="1.1" />
<line x1="231.90" y1="48.80" x2="231.90" y2="61.70" stroke="#1a1a1a" stroke-width="1.1" />
<line x1="229.30" y1="48.80" x2="234.50" y2="48.80" stroke="#1a1a1a" stroke-width="1.1" />
<line x1="229.30" y1="61.70" x2="234.50" y2="61.70" stroke="#1a1a1a" stroke-width="1.1" />
<line x1="237.10" y1="47.90" x2="237.10" y2="61.70" stroke="#1a1a1a" stroke-width="1.1" />
<line x1="234.50" y1="47.90" x2="239.70" y2="47.90" stroke="#1a1a1a" stroke-width="1.1" />
<line x1="234.50" y1="61.70" x2="239.70" y2="61.70" stroke="#1a1a1a" stroke-width="1.1" />
<line x1="247.40" y1="53.10" x2="247.40" y2="64.30" stroke="#1a1a1a" stroke-width="1.1" />
<line x1="244.80" y1="53.10" x2="250.00" y2="53.10" stroke="#1a1a1a" stroke-width="1.1" />
<line x1="244.80" y1="64.30" x2="250.00" y2="64.30" stroke="#1a1a1a" stroke-width="1.1" />
<line x1="262.90" y1="47.00" x2="262.90" y2="61.70" stroke="#1a1a1a" stroke-width="1.1" />
<line x1="260.30" y1="47.00" x2="265.50" y2="47.00" stroke="#1a1a1a" stroke-width="1.1" />
<line x1="260.30" y1="61.70" x2="265.50" y2="61.70" stroke="#1a1a1a" stroke-width="1.1" />
<line x1="273.30" y1="53.10" x2="273.30" y2="68.60" stroke="#1a1a1a" stroke-width="1.1" />
<line x1="270.70" y1="53.10" x2="275.90" y2="53.10" stroke="#1a1a1a" stroke-width="1.1" />
<line x1="270.70" y1="68.60" x2="275.90" y2="68.60" stroke="#1a1a1a" stroke-width="1.1" />
<line x1="279.30" y1="54.00" x2="279.30" y2="61.70" stroke="#1a1a1a" stroke-width="1.1" />
<line x1="276.70" y1="54.00" x2="281.90" y2="54.00" stroke="#1a1a1a" stroke-width="1.1" />
<line x1="276.70" y1="61.70" x2="281.90" y2="61.70" stroke="#1a1a1a" stroke-width="1.1" />
<line x1="242.20" y1="52.50" x2="242.20" y2="59.00" stroke="#1a1a1a" stroke-width="1.1" />
<line x1="239.60" y1="52.50" x2="244.80" y2="52.50" stroke="#1a1a1a" stroke-width="1.1" />
<line x1="239.60" y1="59.00" x2="244.80" y2="59.00" stroke="#1a1a1a" stroke-width="1.1" />
<line x1="268.10" y1="53.00" x2="268.10" y2="60.50" stroke="#1a1a1a" stroke-width="1.1" />
<line x1="265.50" y1="53.00" x2="270.70" y2="53.00" stroke="#1a1a1a" stroke-width="1.1" />
<line x1="265.50" y1="60.50" x2="270.70" y2="60.50" stroke="#1a1a1a" stroke-width="1.1" />
<line x1="252.60" y1="51.00" x2="252.60" y2="57.00" stroke="#1a1a1a" stroke-width="1.1" />
<line x1="250.00" y1="51.00" x2="255.20" y2="51.00" stroke="#1a1a1a" stroke-width="1.1" />
<line x1="250.00" y1="57.00" x2="255.20" y2="57.00" stroke="#1a1a1a" stroke-width="1.1" />
<line x1="231.90" y1="32.40" x2="231.90" y2="39.30" stroke="#1a1a1a" stroke-width="1.1" />
<line x1="229.30" y1="32.40" x2="234.50" y2="32.40" stroke="#1a1a1a" stroke-width="1.1" />
<line x1="229.30" y1="39.30" x2="234.50" y2="39.30" stroke="#1a1a1a" stroke-width="1.1" />
<line x1="237.10" y1="30.00" x2="237.10" y2="36.50" stroke="#1a1a1a" stroke-width="1.1" />
<line x1="234.50" y1="30.00" x2="239.70" y2="30.00" stroke="#1a1a1a" stroke-width="1.1" />
<line x1="234.50" y1="36.50" x2="239.70" y2="36.50" stroke="#1a1a1a" stroke-width="1.1" />
<line x1="242.20" y1="26.40" x2="242.20" y2="32.40" stroke="#1a1a1a" stroke-width="1.1" />
<line x1="239.60" y1="26.40" x2="244.80" y2="26.40" stroke="#1a1a1a" stroke-width="1.1" />
<line x1="239.60" y1="32.40" x2="244.80" y2="32.40" stroke="#1a1a1a" stroke-width="1.1" />
<line x1="247.40" y1="23.80" x2="247.40" y2="30.00" stroke="#1a1a1a" stroke-width="1.1" />
<line x1="244.80" y1="23.80" x2="250.00" y2="23.80" stroke="#1a1a1a" stroke-width="1.1" />
<line x1="244.80" y1="30.00" x2="250.00" y2="30.00" stroke="#1a1a1a" stroke-width="1.1" />
<line x1="252.60" y1="21.20" x2="252.60" y2="26.40" stroke="#1a1a1a" stroke-width="1.1" />
<line x1="250.00" y1="21.20" x2="255.20" y2="21.20" stroke="#1a1a1a" stroke-width="1.1" />
<line x1="250.00" y1="26.40" x2="255.20" y2="26.40" stroke="#1a1a1a" stroke-width="1.1" />
<line x1="262.90" y1="16.90" x2="262.90" y2="29.00" stroke="#1a1a1a" stroke-width="1.1" />
<line x1="260.30" y1="16.90" x2="265.50" y2="16.90" stroke="#1a1a1a" stroke-width="1.1" />
<line x1="260.30" y1="29.00" x2="265.50" y2="29.00" stroke="#1a1a1a" stroke-width="1.1" />
<line x1="267.20" y1="16.90" x2="267.20" y2="29.00" stroke="#1a1a1a" stroke-width="1.1" />
<line x1="264.60" y1="16.90" x2="269.80" y2="16.90" stroke="#1a1a1a" stroke-width="1.1" />
<line x1="264.60" y1="29.00" x2="269.80" y2="29.00" stroke="#1a1a1a" stroke-width="1.1" />
<line x1="271.60" y1="17.50" x2="271.60" y2="28.00" stroke="#1a1a1a" stroke-width="1.1" />
<line x1="269.00" y1="17.50" x2="274.20" y2="17.50" stroke="#1a1a1a" stroke-width="1.1" />
<line x1="269.00" y1="28.00" x2="274.20" y2="28.00" stroke="#1a1a1a" stroke-width="1.1" />
<line x1="275.90" y1="17.50" x2="275.90" y2="28.00" stroke="#1a1a1a" stroke-width="1.1" />
<line x1="273.30" y1="17.50" x2="278.50" y2="17.50" stroke="#1a1a1a" stroke-width="1.1" />
<line x1="273.30" y1="28.00" x2="278.50" y2="28.00" stroke="#1a1a1a" stroke-width="1.1" />
<line x1="279.80" y1="16.90" x2="279.80" y2="27.20" stroke="#1a1a1a" stroke-width="1.1" />
<line x1="277.20" y1="16.90" x2="282.40" y2="16.90" stroke="#1a1a1a" stroke-width="1.1" />
<line x1="277.20" y1="27.20" x2="282.40" y2="27.20" stroke="#1a1a1a" stroke-width="1.1" />
<line x1="221.80" y1="38.50" x2="221.80" y2="43.50" stroke="#1a1a1a" stroke-width="1.1" />
<line x1="219.20" y1="38.50" x2="224.40" y2="38.50" stroke="#1a1a1a" stroke-width="1.1" />
<line x1="219.20" y1="43.50" x2="224.40" y2="43.50" stroke="#1a1a1a" stroke-width="1.1" />
<polyline points="177.00,42.50 180.00,45.00 182.50,53.00 185.00,56.00 188.00,58.00 190.50,59.00 193.00,62.00 195.00,68.30 205.50,72.80 213.50,72.80" fill="none" stroke="#1a1a1a" stroke-width="1.25" stroke-linejoin="miter"/>
<circle cx="177.00" cy="42.50" r="2.7" fill="none" stroke="#1a1a1a" stroke-width="1.1"/>
<circle cx="180.00" cy="45.00" r="2.7" fill="none" stroke="#1a1a1a" stroke-width="1.1"/>
<circle cx="182.50" cy="53.00" r="2.7" fill="none" stroke="#1a1a1a" stroke-width="1.1"/>
<circle cx="185.00" cy="56.00" r="2.7" fill="none" stroke="#1a1a1a" stroke-width="1.1"/>
<circle cx="188.00" cy="58.00" r="2.7" fill="none" stroke="#1a1a1a" stroke-width="1.1"/>
<circle cx="190.50" cy="59.00" r="2.7" fill="none" stroke="#1a1a1a" stroke-width="1.1"/>
<circle cx="193.00" cy="62.00" r="2.7" fill="none" stroke="#1a1a1a" stroke-width="1.1"/>
<circle cx="195.00" cy="68.30" r="2.7" fill="none" stroke="#1a1a1a" stroke-width="1.1"/>
<circle cx="205.50" cy="72.80" r="2.7" fill="none" stroke="#1a1a1a" stroke-width="1.1"/>
<circle cx="213.50" cy="72.80" r="2.7" fill="none" stroke="#1a1a1a" stroke-width="1.1"/>
<polyline points="177.00,42.50 180.00,45.00 182.00,52.00 185.00,55.00 188.00,56.00 191.00,57.00 193.50,57.00 198.50,54.00 205.70,49.50 213.60,44.60 221.80,40.80 226.70,40.50 231.90,36.70 237.10,33.30 242.20,29.00 247.40,26.40 252.60,23.80 256.90,23.40 262.90,22.00 267.20,22.40 271.60,22.00 275.90,22.00 279.80,21.20" fill="none" stroke="#1a1a1a" stroke-width="1.25" stroke-linejoin="miter"/>
<path d="M177.00,39.85 L178.85,42.50 L177.00,45.15 L175.15,42.50 Z" fill="none" stroke="#1a1a1a" stroke-width="0.95" stroke-linejoin="round"/>
<path d="M180.00,42.35 L181.85,45.00 L180.00,47.65 L178.15,45.00 Z" fill="none" stroke="#1a1a1a" stroke-width="0.95" stroke-linejoin="round"/>
<path d="M182.00,49.35 L183.85,52.00 L182.00,54.65 L180.15,52.00 Z" fill="none" stroke="#1a1a1a" stroke-width="0.95" stroke-linejoin="round"/>
<path d="M185.00,52.35 L186.85,55.00 L185.00,57.65 L183.15,55.00 Z" fill="none" stroke="#1a1a1a" stroke-width="0.95" stroke-linejoin="round"/>
<path d="M188.00,53.35 L189.85,56.00 L188.00,58.65 L186.15,56.00 Z" fill="none" stroke="#1a1a1a" stroke-width="0.95" stroke-linejoin="round"/>
<path d="M191.00,54.35 L192.85,57.00 L191.00,59.65 L189.15,57.00 Z" fill="none" stroke="#1a1a1a" stroke-width="0.95" stroke-linejoin="round"/>
<path d="M193.50,54.35 L195.35,57.00 L193.50,59.65 L191.65,57.00 Z" fill="none" stroke="#1a1a1a" stroke-width="0.95" stroke-linejoin="round"/>
<path d="M198.50,51.35 L200.35,54.00 L198.50,56.65 L196.65,54.00 Z" fill="none" stroke="#1a1a1a" stroke-width="0.95" stroke-linejoin="round"/>
<path d="M205.70,46.85 L207.55,49.50 L205.70,52.15 L203.85,49.50 Z" fill="none" stroke="#1a1a1a" stroke-width="0.95" stroke-linejoin="round"/>
<path d="M213.60,41.95 L215.45,44.60 L213.60,47.25 L211.75,44.60 Z" fill="none" stroke="#1a1a1a" stroke-width="0.95" stroke-linejoin="round"/>
<path d="M221.80,38.15 L223.65,40.80 L221.80,43.45 L219.95,40.80 Z" fill="none" stroke="#1a1a1a" stroke-width="0.95" stroke-linejoin="round"/>
<path d="M226.70,37.85 L228.55,40.50 L226.70,43.15 L224.85,40.50 Z" fill="none" stroke="#1a1a1a" stroke-width="0.95" stroke-linejoin="round"/>
<path d="M231.90,34.05 L233.75,36.70 L231.90,39.35 L230.05,36.70 Z" fill="none" stroke="#1a1a1a" stroke-width="0.95" stroke-linejoin="round"/>
<path d="M237.10,30.65 L238.95,33.30 L237.10,35.95 L235.25,33.30 Z" fill="none" stroke="#1a1a1a" stroke-width="0.95" stroke-linejoin="round"/>
<path d="M242.20,26.35 L244.05,29.00 L242.20,31.65 L240.35,29.00 Z" fill="none" stroke="#1a1a1a" stroke-width="0.95" stroke-linejoin="round"/>
<path d="M247.40,23.75 L249.25,26.40 L247.40,29.05 L245.55,26.40 Z" fill="none" stroke="#1a1a1a" stroke-width="0.95" stroke-linejoin="round"/>
<path d="M252.60,21.15 L254.45,23.80 L252.60,26.45 L250.75,23.80 Z" fill="none" stroke="#1a1a1a" stroke-width="0.95" stroke-linejoin="round"/>
<path d="M256.90,20.75 L258.75,23.40 L256.90,26.05 L255.05,23.40 Z" fill="none" stroke="#1a1a1a" stroke-width="0.95" stroke-linejoin="round"/>
<path d="M262.90,19.35 L264.75,22.00 L262.90,24.65 L261.05,22.00 Z" fill="none" stroke="#1a1a1a" stroke-width="0.95" stroke-linejoin="round"/>
<path d="M267.20,19.75 L269.05,22.40 L267.20,25.05 L265.35,22.40 Z" fill="none" stroke="#1a1a1a" stroke-width="0.95" stroke-linejoin="round"/>
<path d="M271.60,19.35 L273.45,22.00 L271.60,24.65 L269.75,22.00 Z" fill="none" stroke="#1a1a1a" stroke-width="0.95" stroke-linejoin="round"/>
<path d="M275.90,19.35 L277.75,22.00 L275.90,24.65 L274.05,22.00 Z" fill="none" stroke="#1a1a1a" stroke-width="0.95" stroke-linejoin="round"/>
<path d="M279.80,18.55 L281.65,21.20 L279.80,23.85 L277.95,21.20 Z" fill="none" stroke="#1a1a1a" stroke-width="0.95" stroke-linejoin="round"/>
<polyline points="177.00,42.50 179.50,45.50 181.00,50.00 182.50,54.50 185.00,57.00 187.50,58.50 190.00,58.00 192.50,58.50 195.50,56.50 205.70,51.50 213.60,51.20 222.20,59.40 226.70,60.00 231.90,55.70 237.10,54.80 242.20,55.70 247.40,58.30 252.60,54.00 262.90,55.20 268.10,56.60 273.30,60.90 279.30,57.40" fill="none" stroke="#1a1a1a" stroke-width="1.25" stroke-linejoin="miter"/>
<rect x="174.50" y="40.00" width="5.0" height="5.0" fill="#000"/>
<rect x="177.00" y="43.00" width="5.0" height="5.0" fill="#000"/>
<rect x="178.50" y="47.50" width="5.0" height="5.0" fill="#000"/>
<rect x="180.00" y="52.00" width="5.0" height="5.0" fill="#000"/>
<rect x="182.50" y="54.50" width="5.0" height="5.0" fill="#000"/>
<rect x="185.00" y="56.00" width="5.0" height="5.0" fill="#000"/>
<rect x="187.50" y="55.50" width="5.0" height="5.0" fill="#000"/>
<rect x="190.00" y="56.00" width="5.0" height="5.0" fill="#000"/>
<rect x="193.00" y="54.00" width="5.0" height="5.0" fill="#000"/>
<rect x="203.20" y="49.00" width="5.0" height="5.0" fill="#000"/>
<rect x="211.10" y="48.70" width="5.0" height="5.0" fill="#000"/>
<rect x="219.70" y="56.90" width="5.0" height="5.0" fill="#000"/>
<rect x="224.20" y="57.50" width="5.0" height="5.0" fill="#000"/>
<rect x="229.40" y="53.20" width="5.0" height="5.0" fill="#000"/>
<rect x="234.60" y="52.30" width="5.0" height="5.0" fill="#000"/>
<rect x="239.70" y="53.20" width="5.0" height="5.0" fill="#000"/>
<rect x="244.90" y="55.80" width="5.0" height="5.0" fill="#000"/>
<rect x="250.10" y="51.50" width="5.0" height="5.0" fill="#000"/>
<rect x="260.40" y="52.70" width="5.0" height="5.0" fill="#000"/>
<rect x="265.60" y="54.10" width="5.0" height="5.0" fill="#000"/>
<rect x="270.80" y="58.40" width="5.0" height="5.0" fill="#000"/>
<rect x="276.80" y="54.90" width="5.0" height="5.0" fill="#000"/>
<line x1="340.50" y1="20.00" x2="340.50" y2="37.00" stroke="#1a1a1a" stroke-width="1.1" />
<line x1="337.90" y1="20.00" x2="343.10" y2="20.00" stroke="#1a1a1a" stroke-width="1.1" />
<line x1="337.90" y1="37.00" x2="343.10" y2="37.00" stroke="#1a1a1a" stroke-width="1.1" />
<line x1="351.10" y1="19.00" x2="351.10" y2="25.70" stroke="#1a1a1a" stroke-width="1.1" />
<line x1="348.50" y1="19.00" x2="353.70" y2="19.00" stroke="#1a1a1a" stroke-width="1.1" />
<line x1="348.50" y1="25.70" x2="353.70" y2="25.70" stroke="#1a1a1a" stroke-width="1.1" />
<line x1="335.00" y1="46.00" x2="335.00" y2="53.00" stroke="#1a1a1a" stroke-width="1.1" />
<line x1="332.40" y1="46.00" x2="337.60" y2="46.00" stroke="#1a1a1a" stroke-width="1.1" />
<line x1="332.40" y1="53.00" x2="337.60" y2="53.00" stroke="#1a1a1a" stroke-width="1.1" />
<line x1="351.10" y1="56.00" x2="351.10" y2="75.40" stroke="#1a1a1a" stroke-width="1.1" />
<line x1="348.50" y1="56.00" x2="353.70" y2="56.00" stroke="#1a1a1a" stroke-width="1.1" />
<line x1="348.50" y1="75.40" x2="353.70" y2="75.40" stroke="#1a1a1a" stroke-width="1.1" />
<line x1="359.30" y1="58.00" x2="359.30" y2="77.00" stroke="#1a1a1a" stroke-width="1.1" />
<line x1="356.70" y1="58.00" x2="361.90" y2="58.00" stroke="#1a1a1a" stroke-width="1.1" />
<line x1="356.70" y1="77.00" x2="361.90" y2="77.00" stroke="#1a1a1a" stroke-width="1.1" />
<line x1="366.90" y1="61.00" x2="366.90" y2="68.20" stroke="#1a1a1a" stroke-width="1.1" />
<line x1="364.30" y1="61.00" x2="369.50" y2="61.00" stroke="#1a1a1a" stroke-width="1.1" />
<line x1="364.30" y1="68.20" x2="369.50" y2="68.20" stroke="#1a1a1a" stroke-width="1.1" />
<line x1="383.80" y1="63.00" x2="383.80" y2="70.80" stroke="#1a1a1a" stroke-width="1.1" />
<line x1="381.20" y1="63.00" x2="386.40" y2="63.00" stroke="#1a1a1a" stroke-width="1.1" />
<line x1="381.20" y1="70.80" x2="386.40" y2="70.80" stroke="#1a1a1a" stroke-width="1.1" />
<line x1="389.20" y1="60.00" x2="389.20" y2="72.50" stroke="#1a1a1a" stroke-width="1.1" />
<line x1="386.60" y1="60.00" x2="391.80" y2="60.00" stroke="#1a1a1a" stroke-width="1.1" />
<line x1="386.60" y1="72.50" x2="391.80" y2="72.50" stroke="#1a1a1a" stroke-width="1.1" />
<line x1="400.30" y1="62.30" x2="400.30" y2="70.90" stroke="#1a1a1a" stroke-width="1.1" />
<line x1="397.70" y1="62.30" x2="402.90" y2="62.30" stroke="#1a1a1a" stroke-width="1.1" />
<line x1="397.70" y1="70.90" x2="402.90" y2="70.90" stroke="#1a1a1a" stroke-width="1.1" />
<line x1="410.80" y1="62.00" x2="410.80" y2="70.40" stroke="#1a1a1a" stroke-width="1.1" />
<line x1="408.20" y1="62.00" x2="413.40" y2="62.00" stroke="#1a1a1a" stroke-width="1.1" />
<line x1="408.20" y1="70.40" x2="413.40" y2="70.40" stroke="#1a1a1a" stroke-width="1.1" />
<line x1="373.10" y1="65.00" x2="373.10" y2="71.50" stroke="#1a1a1a" stroke-width="1.1" />
<line x1="370.50" y1="65.00" x2="375.70" y2="65.00" stroke="#1a1a1a" stroke-width="1.1" />
<line x1="370.50" y1="71.50" x2="375.70" y2="71.50" stroke="#1a1a1a" stroke-width="1.1" />
<line x1="378.20" y1="65.50" x2="378.20" y2="71.00" stroke="#1a1a1a" stroke-width="1.1" />
<line x1="375.60" y1="65.50" x2="380.80" y2="65.50" stroke="#1a1a1a" stroke-width="1.1" />
<line x1="375.60" y1="71.00" x2="380.80" y2="71.00" stroke="#1a1a1a" stroke-width="1.1" />
<line x1="394.60" y1="60.50" x2="394.60" y2="65.70" stroke="#1a1a1a" stroke-width="1.1" />
<line x1="392.00" y1="60.50" x2="397.20" y2="60.50" stroke="#1a1a1a" stroke-width="1.1" />
<line x1="392.00" y1="65.70" x2="397.20" y2="65.70" stroke="#1a1a1a" stroke-width="1.1" />
<line x1="416.20" y1="65.00" x2="416.20" y2="70.40" stroke="#1a1a1a" stroke-width="1.1" />
<line x1="413.60" y1="65.00" x2="418.80" y2="65.00" stroke="#1a1a1a" stroke-width="1.1" />
<line x1="413.60" y1="70.40" x2="418.80" y2="70.40" stroke="#1a1a1a" stroke-width="1.1" />
<line x1="421.50" y1="68.50" x2="421.50" y2="73.00" stroke="#1a1a1a" stroke-width="1.1" />
<line x1="418.90" y1="68.50" x2="424.10" y2="68.50" stroke="#1a1a1a" stroke-width="1.1" />
<line x1="418.90" y1="73.00" x2="424.10" y2="73.00" stroke="#1a1a1a" stroke-width="1.1" />
<line x1="427.40" y1="66.50" x2="427.40" y2="72.00" stroke="#1a1a1a" stroke-width="1.1" />
<line x1="424.80" y1="66.50" x2="430.00" y2="66.50" stroke="#1a1a1a" stroke-width="1.1" />
<line x1="424.80" y1="72.00" x2="430.00" y2="72.00" stroke="#1a1a1a" stroke-width="1.1" />
<polyline points="320.00,83.75 323.00,83.75 325.50,83.75 327.50,81.50 329.60,60.40 331.80,58.00 334.80,55.90 339.30,55.90 341.30,55.90 351.10,65.80 359.30,67.80 366.90,64.60 373.10,68.20 378.20,68.20 383.80,66.90 389.20,66.20 394.60,63.10 400.30,66.60 410.80,66.20 416.20,67.70 421.50,70.80 427.40,69.20" fill="none" stroke="#1a1a1a" stroke-width="1.25" stroke-linejoin="miter"/>
<rect x="317.50" y="81.25" width="5.0" height="5.0" fill="#000"/>
<rect x="320.50" y="81.25" width="5.0" height="5.0" fill="#000"/>
<rect x="323.00" y="81.25" width="5.0" height="5.0" fill="#000"/>
<rect x="325.00" y="79.00" width="5.0" height="5.0" fill="#000"/>
<rect x="327.10" y="57.90" width="5.0" height="5.0" fill="#000"/>
<rect x="329.30" y="55.50" width="5.0" height="5.0" fill="#000"/>
<rect x="332.30" y="53.40" width="5.0" height="5.0" fill="#000"/>
<rect x="336.80" y="53.40" width="5.0" height="5.0" fill="#000"/>
<rect x="338.80" y="53.40" width="5.0" height="5.0" fill="#000"/>
<rect x="348.60" y="63.30" width="5.0" height="5.0" fill="#000"/>
<rect x="356.80" y="65.30" width="5.0" height="5.0" fill="#000"/>
<rect x="364.40" y="62.10" width="5.0" height="5.0" fill="#000"/>
<rect x="370.60" y="65.70" width="5.0" height="5.0" fill="#000"/>
<rect x="375.70" y="65.70" width="5.0" height="5.0" fill="#000"/>
<rect x="381.30" y="64.40" width="5.0" height="5.0" fill="#000"/>
<rect x="386.70" y="63.70" width="5.0" height="5.0" fill="#000"/>
<rect x="392.10" y="60.60" width="5.0" height="5.0" fill="#000"/>
<rect x="397.80" y="64.10" width="5.0" height="5.0" fill="#000"/>
<rect x="408.30" y="63.70" width="5.0" height="5.0" fill="#000"/>
<rect x="413.70" y="65.20" width="5.0" height="5.0" fill="#000"/>
<rect x="419.00" y="68.30" width="5.0" height="5.0" fill="#000"/>
<rect x="424.90" y="66.70" width="5.0" height="5.0" fill="#000"/>
<polyline points="320.00,83.75 323.00,83.75 326.00,83.75 328.10,50.30 331.10,49.50 334.10,48.10 340.50,29.00 351.10,22.30 359.40,19.00" fill="none" stroke="#1a1a1a" stroke-width="1.25" stroke-linejoin="miter"/>
<circle cx="320.00" cy="83.75" r="2.7" fill="none" stroke="#1a1a1a" stroke-width="1.1"/>
<circle cx="323.00" cy="83.75" r="2.7" fill="none" stroke="#1a1a1a" stroke-width="1.1"/>
<circle cx="326.00" cy="83.75" r="2.7" fill="none" stroke="#1a1a1a" stroke-width="1.1"/>
<circle cx="328.10" cy="50.30" r="2.7" fill="none" stroke="#1a1a1a" stroke-width="1.1"/>
<circle cx="331.10" cy="49.50" r="2.7" fill="none" stroke="#1a1a1a" stroke-width="1.1"/>
<circle cx="334.10" cy="48.10" r="2.7" fill="none" stroke="#1a1a1a" stroke-width="1.1"/>
<circle cx="340.50" cy="29.00" r="2.7" fill="none" stroke="#1a1a1a" stroke-width="1.1"/>
<circle cx="351.10" cy="22.30" r="2.7" fill="none" stroke="#1a1a1a" stroke-width="1.1"/>
<circle cx="359.40" cy="19.00" r="2.7" fill="none" stroke="#1a1a1a" stroke-width="1.1"/>
<polyline points="320.00,83.75 323.00,83.75 326.00,83.75 330.40,69.20 335.40,69.20 340.30,69.20 351.10,69.20 359.20,83.60 366.90,83.60 373.10,83.60 378.50,83.60 383.80,83.60 389.20,83.60 394.60,83.60 400.30,83.60 410.80,83.60 416.20,83.60 421.50,83.60 427.40,83.60" fill="none" stroke="#1a1a1a" stroke-width="1.25" stroke-linejoin="miter"/>
<path d="M320.00,81.10 L321.85,83.75 L320.00,86.40 L318.15,83.75 Z" fill="none" stroke="#1a1a1a" stroke-width="0.95" stroke-linejoin="round"/>
<path d="M323.00,81.10 L324.85,83.75 L323.00,86.40 L321.15,83.75 Z" fill="none" stroke="#1a1a1a" stroke-width="0.95" stroke-linejoin="round"/>
<path d="M326.00,81.10 L327.85,83.75 L326.00,86.40 L324.15,83.75 Z" fill="none" stroke="#1a1a1a" stroke-width="0.95" stroke-linejoin="round"/>
<path d="M330.40,66.55 L332.25,69.20 L330.40,71.85 L328.55,69.20 Z" fill="none" stroke="#1a1a1a" stroke-width="0.95" stroke-linejoin="round"/>
<path d="M335.40,66.55 L337.25,69.20 L335.40,71.85 L333.55,69.20 Z" fill="none" stroke="#1a1a1a" stroke-width="0.95" stroke-linejoin="round"/>
<path d="M340.30,66.55 L342.15,69.20 L340.30,71.85 L338.45,69.20 Z" fill="none" stroke="#1a1a1a" stroke-width="0.95" stroke-linejoin="round"/>
<path d="M351.10,66.55 L352.95,69.20 L351.10,71.85 L349.25,69.20 Z" fill="none" stroke="#1a1a1a" stroke-width="0.95" stroke-linejoin="round"/>
<path d="M359.20,80.95 L361.05,83.60 L359.20,86.25 L357.35,83.60 Z" fill="none" stroke="#1a1a1a" stroke-width="0.95" stroke-linejoin="round"/>
<path d="M366.90,80.95 L368.75,83.60 L366.90,86.25 L365.05,83.60 Z" fill="none" stroke="#1a1a1a" stroke-width="0.95" stroke-linejoin="round"/>
<path d="M373.10,80.95 L374.95,83.60 L373.10,86.25 L371.25,83.60 Z" fill="none" stroke="#1a1a1a" stroke-width="0.95" stroke-linejoin="round"/>
<path d="M378.50,80.95 L380.35,83.60 L378.50,86.25 L376.65,83.60 Z" fill="none" stroke="#1a1a1a" stroke-width="0.95" stroke-linejoin="round"/>
<path d="M383.80,80.95 L385.65,83.60 L383.80,86.25 L381.95,83.60 Z" fill="none" stroke="#1a1a1a" stroke-width="0.95" stroke-linejoin="round"/>
<path d="M389.20,80.95 L391.05,83.60 L389.20,86.25 L387.35,83.60 Z" fill="none" stroke="#1a1a1a" stroke-width="0.95" stroke-linejoin="round"/>
<path d="M394.60,80.95 L396.45,83.60 L394.60,86.25 L392.75,83.60 Z" fill="none" stroke="#1a1a1a" stroke-width="0.95" stroke-linejoin="round"/>
<path d="M400.30,80.95 L402.15,83.60 L400.30,86.25 L398.45,83.60 Z" fill="none" stroke="#1a1a1a" stroke-width="0.95" stroke-linejoin="round"/>
<path d="M410.80,80.95 L412.65,83.60 L410.80,86.25 L408.95,83.60 Z" fill="none" stroke="#1a1a1a" stroke-width="0.95" stroke-linejoin="round"/>
<path d="M416.20,80.95 L418.05,83.60 L416.20,86.25 L414.35,83.60 Z" fill="none" stroke="#1a1a1a" stroke-width="0.95" stroke-linejoin="round"/>
<path d="M421.50,80.95 L423.35,83.60 L421.50,86.25 L419.65,83.60 Z" fill="none" stroke="#1a1a1a" stroke-width="0.95" stroke-linejoin="round"/>
<path d="M427.40,80.95 L429.25,83.60 L427.40,86.25 L425.55,83.60 Z" fill="none" stroke="#1a1a1a" stroke-width="0.95" stroke-linejoin="round"/>
<line x1="205.50" y1="150.00" x2="205.50" y2="166.75" stroke="#1a1a1a" stroke-width="1.1" />
<line x1="202.90" y1="150.00" x2="208.10" y2="150.00" stroke="#1a1a1a" stroke-width="1.1" />
<line x1="202.90" y1="166.75" x2="208.10" y2="166.75" stroke="#1a1a1a" stroke-width="1.1" />
<line x1="231.25" y1="149.00" x2="231.25" y2="163.00" stroke="#1a1a1a" stroke-width="1.1" />
<line x1="228.65" y1="149.00" x2="233.85" y2="149.00" stroke="#1a1a1a" stroke-width="1.1" />
<line x1="228.65" y1="163.00" x2="233.85" y2="163.00" stroke="#1a1a1a" stroke-width="1.1" />
<line x1="236.25" y1="143.00" x2="236.25" y2="160.00" stroke="#1a1a1a" stroke-width="1.1" />
<line x1="233.65" y1="143.00" x2="238.85" y2="143.00" stroke="#1a1a1a" stroke-width="1.1" />
<line x1="233.65" y1="160.00" x2="238.85" y2="160.00" stroke="#1a1a1a" stroke-width="1.1" />
<line x1="241.25" y1="143.00" x2="241.25" y2="156.00" stroke="#1a1a1a" stroke-width="1.1" />
<line x1="238.65" y1="143.00" x2="243.85" y2="143.00" stroke="#1a1a1a" stroke-width="1.1" />
<line x1="238.65" y1="156.00" x2="243.85" y2="156.00" stroke="#1a1a1a" stroke-width="1.1" />
<line x1="246.50" y1="144.00" x2="246.50" y2="163.20" stroke="#1a1a1a" stroke-width="1.1" />
<line x1="243.90" y1="144.00" x2="249.10" y2="144.00" stroke="#1a1a1a" stroke-width="1.1" />
<line x1="243.90" y1="163.20" x2="249.10" y2="163.20" stroke="#1a1a1a" stroke-width="1.1" />
<line x1="251.25" y1="134.00" x2="251.25" y2="148.00" stroke="#1a1a1a" stroke-width="1.1" />
<line x1="248.65" y1="134.00" x2="253.85" y2="134.00" stroke="#1a1a1a" stroke-width="1.1" />
<line x1="248.65" y1="148.00" x2="253.85" y2="148.00" stroke="#1a1a1a" stroke-width="1.1" />
<line x1="261.20" y1="134.00" x2="261.20" y2="145.00" stroke="#1a1a1a" stroke-width="1.1" />
<line x1="258.60" y1="134.00" x2="263.80" y2="134.00" stroke="#1a1a1a" stroke-width="1.1" />
<line x1="258.60" y1="145.00" x2="263.80" y2="145.00" stroke="#1a1a1a" stroke-width="1.1" />
<line x1="266.30" y1="136.00" x2="266.30" y2="150.00" stroke="#1a1a1a" stroke-width="1.1" />
<line x1="263.70" y1="136.00" x2="268.90" y2="136.00" stroke="#1a1a1a" stroke-width="1.1" />
<line x1="263.70" y1="150.00" x2="268.90" y2="150.00" stroke="#1a1a1a" stroke-width="1.1" />
<line x1="271.30" y1="137.00" x2="271.30" y2="152.00" stroke="#1a1a1a" stroke-width="1.1" />
<line x1="268.70" y1="137.00" x2="273.90" y2="137.00" stroke="#1a1a1a" stroke-width="1.1" />
<line x1="268.70" y1="152.00" x2="273.90" y2="152.00" stroke="#1a1a1a" stroke-width="1.1" />
<line x1="277.30" y1="135.00" x2="277.30" y2="156.00" stroke="#1a1a1a" stroke-width="1.1" />
<line x1="274.70" y1="135.00" x2="279.90" y2="135.00" stroke="#1a1a1a" stroke-width="1.1" />
<line x1="274.70" y1="156.00" x2="279.90" y2="156.00" stroke="#1a1a1a" stroke-width="1.1" />
<line x1="195.50" y1="160.00" x2="195.50" y2="172.00" stroke="#1a1a1a" stroke-width="1.1" />
<line x1="192.90" y1="160.00" x2="198.10" y2="160.00" stroke="#1a1a1a" stroke-width="1.1" />
<line x1="192.90" y1="172.00" x2="198.10" y2="172.00" stroke="#1a1a1a" stroke-width="1.1" />
<line x1="220.50" y1="156.00" x2="220.50" y2="166.00" stroke="#1a1a1a" stroke-width="1.1" />
<line x1="217.90" y1="156.00" x2="223.10" y2="156.00" stroke="#1a1a1a" stroke-width="1.1" />
<line x1="217.90" y1="166.00" x2="223.10" y2="166.00" stroke="#1a1a1a" stroke-width="1.1" />
<line x1="205.80" y1="172.30" x2="205.80" y2="182.70" stroke="#1a1a1a" stroke-width="1.1" />
<line x1="203.20" y1="172.30" x2="208.40" y2="172.30" stroke="#1a1a1a" stroke-width="1.1" />
<line x1="203.20" y1="182.70" x2="208.40" y2="182.70" stroke="#1a1a1a" stroke-width="1.1" />
<line x1="226.00" y1="174.70" x2="226.00" y2="184.00" stroke="#1a1a1a" stroke-width="1.1" />
<line x1="223.40" y1="174.70" x2="228.60" y2="174.70" stroke="#1a1a1a" stroke-width="1.1" />
<line x1="223.40" y1="184.00" x2="228.60" y2="184.00" stroke="#1a1a1a" stroke-width="1.1" />
<line x1="246.10" y1="170.30" x2="246.10" y2="177.30" stroke="#1a1a1a" stroke-width="1.1" />
<line x1="243.50" y1="170.30" x2="248.70" y2="170.30" stroke="#1a1a1a" stroke-width="1.1" />
<line x1="243.50" y1="177.30" x2="248.70" y2="177.30" stroke="#1a1a1a" stroke-width="1.1" />
<line x1="261.20" y1="172.30" x2="261.20" y2="184.40" stroke="#1a1a1a" stroke-width="1.1" />
<line x1="258.60" y1="172.30" x2="263.80" y2="172.30" stroke="#1a1a1a" stroke-width="1.1" />
<line x1="258.60" y1="184.40" x2="263.80" y2="184.40" stroke="#1a1a1a" stroke-width="1.1" />
<line x1="271.30" y1="173.00" x2="271.30" y2="187.40" stroke="#1a1a1a" stroke-width="1.1" />
<line x1="268.70" y1="173.00" x2="273.90" y2="173.00" stroke="#1a1a1a" stroke-width="1.1" />
<line x1="268.70" y1="187.40" x2="273.90" y2="187.40" stroke="#1a1a1a" stroke-width="1.1" />
<line x1="277.30" y1="168.30" x2="277.30" y2="178.30" stroke="#1a1a1a" stroke-width="1.1" />
<line x1="274.70" y1="168.30" x2="279.90" y2="168.30" stroke="#1a1a1a" stroke-width="1.1" />
<line x1="274.70" y1="178.30" x2="279.90" y2="178.30" stroke="#1a1a1a" stroke-width="1.1" />
<line x1="193.10" y1="176.00" x2="193.10" y2="190.40" stroke="#1a1a1a" stroke-width="1.1" />
<line x1="190.50" y1="176.00" x2="195.70" y2="176.00" stroke="#1a1a1a" stroke-width="1.1" />
<line x1="190.50" y1="190.40" x2="195.70" y2="190.40" stroke="#1a1a1a" stroke-width="1.1" />
<line x1="184.00" y1="166.00" x2="184.00" y2="180.00" stroke="#1a1a1a" stroke-width="1.1" />
<line x1="181.40" y1="166.00" x2="186.60" y2="166.00" stroke="#1a1a1a" stroke-width="1.1" />
<line x1="181.40" y1="180.00" x2="186.60" y2="180.00" stroke="#1a1a1a" stroke-width="1.1" />
<line x1="188.00" y1="168.00" x2="188.00" y2="182.00" stroke="#1a1a1a" stroke-width="1.1" />
<line x1="185.40" y1="168.00" x2="190.60" y2="168.00" stroke="#1a1a1a" stroke-width="1.1" />
<line x1="185.40" y1="182.00" x2="190.60" y2="182.00" stroke="#1a1a1a" stroke-width="1.1" />
<line x1="181.00" y1="174.00" x2="181.00" y2="184.00" stroke="#1a1a1a" stroke-width="1.1" />
<line x1="178.40" y1="174.00" x2="183.60" y2="174.00" stroke="#1a1a1a" stroke-width="1.1" />
<line x1="178.40" y1="184.00" x2="183.60" y2="184.00" stroke="#1a1a1a" stroke-width="1.1" />
<line x1="186.00" y1="170.00" x2="186.00" y2="183.00" stroke="#1a1a1a" stroke-width="1.1" />
<line x1="183.40" y1="170.00" x2="188.60" y2="170.00" stroke="#1a1a1a" stroke-width="1.1" />
<line x1="183.40" y1="183.00" x2="188.60" y2="183.00" stroke="#1a1a1a" stroke-width="1.1" />
<line x1="190.00" y1="171.00" x2="190.00" y2="186.00" stroke="#1a1a1a" stroke-width="1.1" />
<line x1="187.40" y1="171.00" x2="192.60" y2="171.00" stroke="#1a1a1a" stroke-width="1.1" />
<line x1="187.40" y1="186.00" x2="192.60" y2="186.00" stroke="#1a1a1a" stroke-width="1.1" />
<line x1="197.00" y1="172.00" x2="197.00" y2="185.00" stroke="#1a1a1a" stroke-width="1.1" />
<line x1="194.40" y1="172.00" x2="199.60" y2="172.00" stroke="#1a1a1a" stroke-width="1.1" />
<line x1="194.40" y1="185.00" x2="199.60" y2="185.00" stroke="#1a1a1a" stroke-width="1.1" />
<polyline points="177.00,161.20 179.00,168.00 181.00,175.00 184.00,177.00 186.10,176.70 190.10,178.30 193.10,180.30 205.20,191.40 213.30,192.00" fill="none" stroke="#1a1a1a" stroke-width="1.25" stroke-linejoin="miter"/>
<circle cx="177.00" cy="161.20" r="2.7" fill="none" stroke="#1a1a1a" stroke-width="1.1"/>
<circle cx="179.00" cy="168.00" r="2.7" fill="none" stroke="#1a1a1a" stroke-width="1.1"/>
<circle cx="181.00" cy="175.00" r="2.7" fill="none" stroke="#1a1a1a" stroke-width="1.1"/>
<circle cx="184.00" cy="177.00" r="2.7" fill="none" stroke="#1a1a1a" stroke-width="1.1"/>
<circle cx="186.10" cy="176.70" r="2.7" fill="none" stroke="#1a1a1a" stroke-width="1.1"/>
<circle cx="190.10" cy="178.30" r="2.7" fill="none" stroke="#1a1a1a" stroke-width="1.1"/>
<circle cx="193.10" cy="180.30" r="2.7" fill="none" stroke="#1a1a1a" stroke-width="1.1"/>
<circle cx="205.20" cy="191.40" r="2.7" fill="none" stroke="#1a1a1a" stroke-width="1.1"/>
<circle cx="213.30" cy="192.00" r="2.7" fill="none" stroke="#1a1a1a" stroke-width="1.1"/>
<polyline points="177.00,161.20 180.00,164.00 182.00,167.00 185.00,170.00 188.00,171.00 191.00,170.00 193.50,168.50 195.50,167.50 205.50,158.75 213.00,164.25 220.50,161.00 226.25,158.50 231.25,155.80 236.25,152.80 241.25,149.25 246.50,154.00 251.25,142.00 261.20,139.70 266.30,142.50 271.30,144.50 277.30,145.10" fill="none" stroke="#1a1a1a" stroke-width="1.25" stroke-linejoin="miter"/>
<path d="M177.00,158.55 L178.85,161.20 L177.00,163.85 L175.15,161.20 Z" fill="none" stroke="#1a1a1a" stroke-width="0.95" stroke-linejoin="round"/>
<path d="M180.00,161.35 L181.85,164.00 L180.00,166.65 L178.15,164.00 Z" fill="none" stroke="#1a1a1a" stroke-width="0.95" stroke-linejoin="round"/>
<path d="M182.00,164.35 L183.85,167.00 L182.00,169.65 L180.15,167.00 Z" fill="none" stroke="#1a1a1a" stroke-width="0.95" stroke-linejoin="round"/>
<path d="M185.00,167.35 L186.85,170.00 L185.00,172.65 L183.15,170.00 Z" fill="none" stroke="#1a1a1a" stroke-width="0.95" stroke-linejoin="round"/>
<path d="M188.00,168.35 L189.85,171.00 L188.00,173.65 L186.15,171.00 Z" fill="none" stroke="#1a1a1a" stroke-width="0.95" stroke-linejoin="round"/>
<path d="M191.00,167.35 L192.85,170.00 L191.00,172.65 L189.15,170.00 Z" fill="none" stroke="#1a1a1a" stroke-width="0.95" stroke-linejoin="round"/>
<path d="M193.50,165.85 L195.35,168.50 L193.50,171.15 L191.65,168.50 Z" fill="none" stroke="#1a1a1a" stroke-width="0.95" stroke-linejoin="round"/>
<path d="M195.50,164.85 L197.35,167.50 L195.50,170.15 L193.65,167.50 Z" fill="none" stroke="#1a1a1a" stroke-width="0.95" stroke-linejoin="round"/>
<path d="M205.50,156.10 L207.35,158.75 L205.50,161.40 L203.65,158.75 Z" fill="none" stroke="#1a1a1a" stroke-width="0.95" stroke-linejoin="round"/>
<path d="M213.00,161.60 L214.85,164.25 L213.00,166.90 L211.15,164.25 Z" fill="none" stroke="#1a1a1a" stroke-width="0.95" stroke-linejoin="round"/>
<path d="M220.50,158.35 L222.35,161.00 L220.50,163.65 L218.65,161.00 Z" fill="none" stroke="#1a1a1a" stroke-width="0.95" stroke-linejoin="round"/>
<path d="M226.25,155.85 L228.10,158.50 L226.25,161.15 L224.40,158.50 Z" fill="none" stroke="#1a1a1a" stroke-width="0.95" stroke-linejoin="round"/>
<path d="M231.25,153.15 L233.10,155.80 L231.25,158.45 L229.40,155.80 Z" fill="none" stroke="#1a1a1a" stroke-width="0.95" stroke-linejoin="round"/>
<path d="M236.25,150.15 L238.10,152.80 L236.25,155.45 L234.40,152.80 Z" fill="none" stroke="#1a1a1a" stroke-width="0.95" stroke-linejoin="round"/>
<path d="M241.25,146.60 L243.10,149.25 L241.25,151.90 L239.40,149.25 Z" fill="none" stroke="#1a1a1a" stroke-width="0.95" stroke-linejoin="round"/>
<path d="M246.50,151.35 L248.35,154.00 L246.50,156.65 L244.65,154.00 Z" fill="none" stroke="#1a1a1a" stroke-width="0.95" stroke-linejoin="round"/>
<path d="M251.25,139.35 L253.10,142.00 L251.25,144.65 L249.40,142.00 Z" fill="none" stroke="#1a1a1a" stroke-width="0.95" stroke-linejoin="round"/>
<path d="M261.20,137.05 L263.05,139.70 L261.20,142.35 L259.35,139.70 Z" fill="none" stroke="#1a1a1a" stroke-width="0.95" stroke-linejoin="round"/>
<path d="M266.30,139.85 L268.15,142.50 L266.30,145.15 L264.45,142.50 Z" fill="none" stroke="#1a1a1a" stroke-width="0.95" stroke-linejoin="round"/>
<path d="M271.30,141.85 L273.15,144.50 L271.30,147.15 L269.45,144.50 Z" fill="none" stroke="#1a1a1a" stroke-width="0.95" stroke-linejoin="round"/>
<path d="M277.30,142.45 L279.15,145.10 L277.30,147.75 L275.45,145.10 Z" fill="none" stroke="#1a1a1a" stroke-width="0.95" stroke-linejoin="round"/>
<polyline points="177.00,161.20 180.00,166.20 182.00,171.30 184.10,173.30 187.10,175.30 191.10,175.30 195.80,177.30 205.80,178.30 213.30,176.70 220.30,172.30 225.80,178.30 231.00,179.30 236.10,181.30 241.10,178.30 246.10,173.90 251.20,180.70 261.20,177.90 266.30,180.30 271.30,180.30 277.30,173.90" fill="none" stroke="#1a1a1a" stroke-width="1.25" stroke-linejoin="miter"/>
<rect x="174.50" y="158.70" width="5.0" height="5.0" fill="#000"/>
<rect x="177.50" y="163.70" width="5.0" height="5.0" fill="#000"/>
<rect x="179.50" y="168.80" width="5.0" height="5.0" fill="#000"/>
<rect x="181.60" y="170.80" width="5.0" height="5.0" fill="#000"/>
<rect x="184.60" y="172.80" width="5.0" height="5.0" fill="#000"/>
<rect x="188.60" y="172.80" width="5.0" height="5.0" fill="#000"/>
<rect x="193.30" y="174.80" width="5.0" height="5.0" fill="#000"/>
<rect x="203.30" y="175.80" width="5.0" height="5.0" fill="#000"/>
<rect x="210.80" y="174.20" width="5.0" height="5.0" fill="#000"/>
<rect x="217.80" y="169.80" width="5.0" height="5.0" fill="#000"/>
<rect x="223.30" y="175.80" width="5.0" height="5.0" fill="#000"/>
<rect x="228.50" y="176.80" width="5.0" height="5.0" fill="#000"/>
<rect x="233.60" y="178.80" width="5.0" height="5.0" fill="#000"/>
<rect x="238.60" y="175.80" width="5.0" height="5.0" fill="#000"/>
<rect x="243.60" y="171.40" width="5.0" height="5.0" fill="#000"/>
<rect x="248.70" y="178.20" width="5.0" height="5.0" fill="#000"/>
<rect x="258.70" y="175.40" width="5.0" height="5.0" fill="#000"/>
<rect x="263.80" y="177.80" width="5.0" height="5.0" fill="#000"/>
<rect x="268.80" y="177.80" width="5.0" height="5.0" fill="#000"/>
<rect x="274.80" y="171.40" width="5.0" height="5.0" fill="#000"/>
<line x1="341.25" y1="150.00" x2="341.25" y2="157.50" stroke="#1a1a1a" stroke-width="1.1" />
<line x1="338.65" y1="150.00" x2="343.85" y2="150.00" stroke="#1a1a1a" stroke-width="1.1" />
<line x1="338.65" y1="157.50" x2="343.85" y2="157.50" stroke="#1a1a1a" stroke-width="1.1" />
<line x1="335.50" y1="171.75" x2="335.50" y2="181.75" stroke="#1a1a1a" stroke-width="1.1" />
<line x1="332.90" y1="171.75" x2="338.10" y2="171.75" stroke="#1a1a1a" stroke-width="1.1" />
<line x1="332.90" y1="181.75" x2="338.10" y2="181.75" stroke="#1a1a1a" stroke-width="1.1" />
<line x1="352.00" y1="143.00" x2="352.00" y2="150.50" stroke="#1a1a1a" stroke-width="1.1" />
<line x1="349.40" y1="143.00" x2="354.60" y2="143.00" stroke="#1a1a1a" stroke-width="1.1" />
<line x1="349.40" y1="150.50" x2="354.60" y2="150.50" stroke="#1a1a1a" stroke-width="1.1" />
<line x1="360.00" y1="138.50" x2="360.00" y2="146.00" stroke="#1a1a1a" stroke-width="1.1" />
<line x1="357.40" y1="138.50" x2="362.60" y2="138.50" stroke="#1a1a1a" stroke-width="1.1" />
<line x1="357.40" y1="146.00" x2="362.60" y2="146.00" stroke="#1a1a1a" stroke-width="1.1" />
<line x1="351.25" y1="173.50" x2="351.25" y2="183.50" stroke="#1a1a1a" stroke-width="1.1" />
<line x1="348.65" y1="173.50" x2="353.85" y2="173.50" stroke="#1a1a1a" stroke-width="1.1" />
<line x1="348.65" y1="183.50" x2="353.85" y2="183.50" stroke="#1a1a1a" stroke-width="1.1" />
<line x1="368.00" y1="172.50" x2="368.00" y2="180.50" stroke="#1a1a1a" stroke-width="1.1" />
<line x1="365.40" y1="172.50" x2="370.60" y2="172.50" stroke="#1a1a1a" stroke-width="1.1" />
<line x1="365.40" y1="180.50" x2="370.60" y2="180.50" stroke="#1a1a1a" stroke-width="1.1" />
<line x1="378.30" y1="173.50" x2="378.30" y2="181.50" stroke="#1a1a1a" stroke-width="1.1" />
<line x1="375.70" y1="173.50" x2="380.90" y2="173.50" stroke="#1a1a1a" stroke-width="1.1" />
<line x1="375.70" y1="181.50" x2="380.90" y2="181.50" stroke="#1a1a1a" stroke-width="1.1" />
<line x1="394.80" y1="179.80" x2="394.80" y2="187.50" stroke="#1a1a1a" stroke-width="1.1" />
<line x1="392.20" y1="179.80" x2="397.40" y2="179.80" stroke="#1a1a1a" stroke-width="1.1" />
<line x1="392.20" y1="187.50" x2="397.40" y2="187.50" stroke="#1a1a1a" stroke-width="1.1" />
<line x1="411.00" y1="182.10" x2="411.00" y2="192.50" stroke="#1a1a1a" stroke-width="1.1" />
<line x1="408.40" y1="182.10" x2="413.60" y2="182.10" stroke="#1a1a1a" stroke-width="1.1" />
<line x1="408.40" y1="192.50" x2="413.60" y2="192.50" stroke="#1a1a1a" stroke-width="1.1" />
<line x1="327.20" y1="186.00" x2="327.20" y2="190.00" stroke="#1a1a1a" stroke-width="1.1" />
<line x1="324.60" y1="186.00" x2="329.80" y2="186.00" stroke="#1a1a1a" stroke-width="1.1" />
<line x1="324.60" y1="190.00" x2="329.80" y2="190.00" stroke="#1a1a1a" stroke-width="1.1" />
<line x1="334.20" y1="186.00" x2="334.20" y2="190.00" stroke="#1a1a1a" stroke-width="1.1" />
<line x1="331.60" y1="186.00" x2="336.80" y2="186.00" stroke="#1a1a1a" stroke-width="1.1" />
<line x1="331.60" y1="190.00" x2="336.80" y2="190.00" stroke="#1a1a1a" stroke-width="1.1" />
<line x1="342.20" y1="189.50" x2="342.20" y2="195.90" stroke="#1a1a1a" stroke-width="1.1" />
<line x1="339.60" y1="189.50" x2="344.80" y2="189.50" stroke="#1a1a1a" stroke-width="1.1" />
<line x1="339.60" y1="195.90" x2="344.80" y2="195.90" stroke="#1a1a1a" stroke-width="1.1" />
<line x1="330.30" y1="185.00" x2="330.30" y2="192.00" stroke="#1a1a1a" stroke-width="1.1" />
<line x1="327.70" y1="185.00" x2="332.90" y2="185.00" stroke="#1a1a1a" stroke-width="1.1" />
<line x1="327.70" y1="192.00" x2="332.90" y2="192.00" stroke="#1a1a1a" stroke-width="1.1" />
<line x1="360.00" y1="172.00" x2="360.00" y2="178.00" stroke="#1a1a1a" stroke-width="1.1" />
<line x1="357.40" y1="172.00" x2="362.60" y2="172.00" stroke="#1a1a1a" stroke-width="1.1" />
<line x1="357.40" y1="178.00" x2="362.60" y2="178.00" stroke="#1a1a1a" stroke-width="1.1" />
<polyline points="319.70,202.00 322.50,202.00 325.30,202.00 328.10,202.00 331.00,202.00 333.80,202.00 336.60,202.00 339.20,202.00 341.40,202.00 351.25,178.75 360.00,175.00 368.00,176.75 372.90,182.70 378.30,177.50 383.80,182.70 389.60,187.90 394.80,183.60 400.20,186.20 411.00,187.50 416.20,187.50 421.90,189.60 427.10,189.60" fill="none" stroke="#1a1a1a" stroke-width="1.25" stroke-linejoin="miter"/>
<rect x="317.20" y="199.50" width="5.0" height="5.0" fill="#000"/>
<rect x="320.00" y="199.50" width="5.0" height="5.0" fill="#000"/>
<rect x="322.80" y="199.50" width="5.0" height="5.0" fill="#000"/>
<rect x="325.60" y="199.50" width="5.0" height="5.0" fill="#000"/>
<rect x="328.50" y="199.50" width="5.0" height="5.0" fill="#000"/>
<rect x="331.30" y="199.50" width="5.0" height="5.0" fill="#000"/>
<rect x="334.10" y="199.50" width="5.0" height="5.0" fill="#000"/>
<rect x="336.70" y="199.50" width="5.0" height="5.0" fill="#000"/>
<rect x="338.90" y="199.50" width="5.0" height="5.0" fill="#000"/>
<rect x="348.75" y="176.25" width="5.0" height="5.0" fill="#000"/>
<rect x="357.50" y="172.50" width="5.0" height="5.0" fill="#000"/>
<rect x="365.50" y="174.25" width="5.0" height="5.0" fill="#000"/>
<rect x="370.40" y="180.20" width="5.0" height="5.0" fill="#000"/>
<rect x="375.80" y="175.00" width="5.0" height="5.0" fill="#000"/>
<rect x="381.30" y="180.20" width="5.0" height="5.0" fill="#000"/>
<rect x="387.10" y="185.40" width="5.0" height="5.0" fill="#000"/>
<rect x="392.30" y="181.10" width="5.0" height="5.0" fill="#000"/>
<rect x="397.70" y="183.70" width="5.0" height="5.0" fill="#000"/>
<rect x="408.50" y="185.00" width="5.0" height="5.0" fill="#000"/>
<rect x="413.70" y="185.00" width="5.0" height="5.0" fill="#000"/>
<rect x="419.40" y="187.10" width="5.0" height="5.0" fill="#000"/>
<rect x="424.60" y="187.10" width="5.0" height="5.0" fill="#000"/>
<polyline points="319.00,202.00 323.00,202.00 327.50,192.50 329.50,189.25 331.25,186.75 335.50,176.50 341.25,153.50 352.00,146.75 360.00,142.25" fill="none" stroke="#1a1a1a" stroke-width="1.25" stroke-linejoin="miter"/>
<circle cx="319.00" cy="202.00" r="2.7" fill="none" stroke="#1a1a1a" stroke-width="1.1"/>
<circle cx="323.00" cy="202.00" r="2.7" fill="none" stroke="#1a1a1a" stroke-width="1.1"/>
<circle cx="327.50" cy="192.50" r="2.7" fill="none" stroke="#1a1a1a" stroke-width="1.1"/>
<circle cx="329.50" cy="189.25" r="2.7" fill="none" stroke="#1a1a1a" stroke-width="1.1"/>
<circle cx="331.25" cy="186.75" r="2.7" fill="none" stroke="#1a1a1a" stroke-width="1.1"/>
<circle cx="335.50" cy="176.50" r="2.7" fill="none" stroke="#1a1a1a" stroke-width="1.1"/>
<circle cx="341.25" cy="153.50" r="2.7" fill="none" stroke="#1a1a1a" stroke-width="1.1"/>
<circle cx="352.00" cy="146.75" r="2.7" fill="none" stroke="#1a1a1a" stroke-width="1.1"/>
<circle cx="360.00" cy="142.25" r="2.7" fill="none" stroke="#1a1a1a" stroke-width="1.1"/>
<polyline points="319.00,202.00 323.00,202.00 326.00,202.00 327.50,193.00 330.30,188.40 332.60,188.00 335.90,188.90 340.40,190.70 351.50,202.10 359.50,202.10 367.60,202.10 372.90,202.10 378.30,202.10 383.80,202.10 389.00,202.10 394.80,202.10 400.20,202.10 411.00,202.10 416.20,202.10 421.90,202.10 427.10,202.10" fill="none" stroke="#1a1a1a" stroke-width="1.25" stroke-linejoin="miter"/>
<path d="M319.00,199.35 L320.85,202.00 L319.00,204.65 L317.15,202.00 Z" fill="none" stroke="#1a1a1a" stroke-width="0.95" stroke-linejoin="round"/>
<path d="M323.00,199.35 L324.85,202.00 L323.00,204.65 L321.15,202.00 Z" fill="none" stroke="#1a1a1a" stroke-width="0.95" stroke-linejoin="round"/>
<path d="M326.00,199.35 L327.85,202.00 L326.00,204.65 L324.15,202.00 Z" fill="none" stroke="#1a1a1a" stroke-width="0.95" stroke-linejoin="round"/>
<path d="M327.50,190.35 L329.35,193.00 L327.50,195.65 L325.65,193.00 Z" fill="none" stroke="#1a1a1a" stroke-width="0.95" stroke-linejoin="round"/>
<path d="M330.30,185.75 L332.15,188.40 L330.30,191.05 L328.45,188.40 Z" fill="none" stroke="#1a1a1a" stroke-width="0.95" stroke-linejoin="round"/>
<path d="M332.60,185.35 L334.45,188.00 L332.60,190.65 L330.75,188.00 Z" fill="none" stroke="#1a1a1a" stroke-width="0.95" stroke-linejoin="round"/>
<path d="M335.90,186.25 L337.75,188.90 L335.90,191.55 L334.05,188.90 Z" fill="none" stroke="#1a1a1a" stroke-width="0.95" stroke-linejoin="round"/>
<path d="M340.40,188.05 L342.25,190.70 L340.40,193.35 L338.55,190.70 Z" fill="none" stroke="#1a1a1a" stroke-width="0.95" stroke-linejoin="round"/>
<path d="M351.50,199.45 L353.35,202.10 L351.50,204.75 L349.65,202.10 Z" fill="none" stroke="#1a1a1a" stroke-width="0.95" stroke-linejoin="round"/>
<path d="M359.50,199.45 L361.35,202.10 L359.50,204.75 L357.65,202.10 Z" fill="none" stroke="#1a1a1a" stroke-width="0.95" stroke-linejoin="round"/>
<path d="M367.60,199.45 L369.45,202.10 L367.60,204.75 L365.75,202.10 Z" fill="none" stroke="#1a1a1a" stroke-width="0.95" stroke-linejoin="round"/>
<path d="M372.90,199.45 L374.75,202.10 L372.90,204.75 L371.05,202.10 Z" fill="none" stroke="#1a1a1a" stroke-width="0.95" stroke-linejoin="round"/>
<path d="M378.30,199.45 L380.15,202.10 L378.30,204.75 L376.45,202.10 Z" fill="none" stroke="#1a1a1a" stroke-width="0.95" stroke-linejoin="round"/>
<path d="M383.80,199.45 L385.65,202.10 L383.80,204.75 L381.95,202.10 Z" fill="none" stroke="#1a1a1a" stroke-width="0.95" stroke-linejoin="round"/>
<path d="M389.00,199.45 L390.85,202.10 L389.00,204.75 L387.15,202.10 Z" fill="none" stroke="#1a1a1a" stroke-width="0.95" stroke-linejoin="round"/>
<path d="M394.80,199.45 L396.65,202.10 L394.80,204.75 L392.95,202.10 Z" fill="none" stroke="#1a1a1a" stroke-width="0.95" stroke-linejoin="round"/>
<path d="M400.20,199.45 L402.05,202.10 L400.20,204.75 L398.35,202.10 Z" fill="none" stroke="#1a1a1a" stroke-width="0.95" stroke-linejoin="round"/>
<path d="M411.00,199.45 L412.85,202.10 L411.00,204.75 L409.15,202.10 Z" fill="none" stroke="#1a1a1a" stroke-width="0.95" stroke-linejoin="round"/>
<path d="M416.20,199.45 L418.05,202.10 L416.20,204.75 L414.35,202.10 Z" fill="none" stroke="#1a1a1a" stroke-width="0.95" stroke-linejoin="round"/>
<path d="M421.90,199.45 L423.75,202.10 L421.90,204.75 L420.05,202.10 Z" fill="none" stroke="#1a1a1a" stroke-width="0.95" stroke-linejoin="round"/>
<path d="M427.10,199.45 L428.95,202.10 L427.10,204.75 L425.25,202.10 Z" fill="none" stroke="#1a1a1a" stroke-width="0.95" stroke-linejoin="round"/>
<line x1="178.00" y1="270.00" x2="178.00" y2="285.00" stroke="#1a1a1a" stroke-width="1.1" />
<line x1="175.40" y1="270.00" x2="180.60" y2="270.00" stroke="#1a1a1a" stroke-width="1.1" />
<line x1="175.40" y1="285.00" x2="180.60" y2="285.00" stroke="#1a1a1a" stroke-width="1.1" />
<line x1="181.00" y1="284.00" x2="181.00" y2="298.00" stroke="#1a1a1a" stroke-width="1.1" />
<line x1="178.40" y1="284.00" x2="183.60" y2="284.00" stroke="#1a1a1a" stroke-width="1.1" />
<line x1="178.40" y1="298.00" x2="183.60" y2="298.00" stroke="#1a1a1a" stroke-width="1.1" />
<line x1="184.00" y1="288.00" x2="184.00" y2="299.00" stroke="#1a1a1a" stroke-width="1.1" />
<line x1="181.40" y1="288.00" x2="186.60" y2="288.00" stroke="#1a1a1a" stroke-width="1.1" />
<line x1="181.40" y1="299.00" x2="186.60" y2="299.00" stroke="#1a1a1a" stroke-width="1.1" />
<line x1="187.00" y1="288.00" x2="187.00" y2="298.00" stroke="#1a1a1a" stroke-width="1.1" />
<line x1="184.40" y1="288.00" x2="189.60" y2="288.00" stroke="#1a1a1a" stroke-width="1.1" />
<line x1="184.40" y1="298.00" x2="189.60" y2="298.00" stroke="#1a1a1a" stroke-width="1.1" />
<line x1="190.00" y1="287.00" x2="190.00" y2="297.00" stroke="#1a1a1a" stroke-width="1.1" />
<line x1="187.40" y1="287.00" x2="192.60" y2="287.00" stroke="#1a1a1a" stroke-width="1.1" />
<line x1="187.40" y1="297.00" x2="192.60" y2="297.00" stroke="#1a1a1a" stroke-width="1.1" />
<line x1="192.50" y1="275.00" x2="192.50" y2="290.00" stroke="#1a1a1a" stroke-width="1.1" />
<line x1="189.90" y1="275.00" x2="195.10" y2="275.00" stroke="#1a1a1a" stroke-width="1.1" />
<line x1="189.90" y1="290.00" x2="195.10" y2="290.00" stroke="#1a1a1a" stroke-width="1.1" />
<line x1="194.40" y1="268.00" x2="194.40" y2="283.00" stroke="#1a1a1a" stroke-width="1.1" />
<line x1="191.80" y1="268.00" x2="197.00" y2="268.00" stroke="#1a1a1a" stroke-width="1.1" />
<line x1="191.80" y1="283.00" x2="197.00" y2="283.00" stroke="#1a1a1a" stroke-width="1.1" />
<line x1="198.70" y1="264.70" x2="198.70" y2="283.60" stroke="#1a1a1a" stroke-width="1.1" />
<line x1="196.10" y1="264.70" x2="201.30" y2="264.70" stroke="#1a1a1a" stroke-width="1.1" />
<line x1="196.10" y1="283.60" x2="201.30" y2="283.60" stroke="#1a1a1a" stroke-width="1.1" />
<line x1="204.80" y1="261.20" x2="204.80" y2="281.90" stroke="#1a1a1a" stroke-width="1.1" />
<line x1="202.20" y1="261.20" x2="207.40" y2="261.20" stroke="#1a1a1a" stroke-width="1.1" />
<line x1="202.20" y1="281.90" x2="207.40" y2="281.90" stroke="#1a1a1a" stroke-width="1.1" />
<line x1="209.10" y1="262.00" x2="209.10" y2="279.00" stroke="#1a1a1a" stroke-width="1.1" />
<line x1="206.50" y1="262.00" x2="211.70" y2="262.00" stroke="#1a1a1a" stroke-width="1.1" />
<line x1="206.50" y1="279.00" x2="211.70" y2="279.00" stroke="#1a1a1a" stroke-width="1.1" />
<line x1="213.40" y1="257.80" x2="213.40" y2="278.40" stroke="#1a1a1a" stroke-width="1.1" />
<line x1="210.80" y1="257.80" x2="216.00" y2="257.80" stroke="#1a1a1a" stroke-width="1.1" />
<line x1="210.80" y1="278.40" x2="216.00" y2="278.40" stroke="#1a1a1a" stroke-width="1.1" />
<line x1="219.40" y1="256.00" x2="219.40" y2="268.00" stroke="#1a1a1a" stroke-width="1.1" />
<line x1="216.80" y1="256.00" x2="222.00" y2="256.00" stroke="#1a1a1a" stroke-width="1.1" />
<line x1="216.80" y1="268.00" x2="222.00" y2="268.00" stroke="#1a1a1a" stroke-width="1.1" />
<line x1="224.60" y1="256.00" x2="224.60" y2="267.20" stroke="#1a1a1a" stroke-width="1.1" />
<line x1="222.00" y1="256.00" x2="227.20" y2="256.00" stroke="#1a1a1a" stroke-width="1.1" />
<line x1="222.00" y1="267.20" x2="227.20" y2="267.20" stroke="#1a1a1a" stroke-width="1.1" />
<line x1="244.30" y1="275.70" x2="244.30" y2="295.00" stroke="#1a1a1a" stroke-width="1.1" />
<line x1="241.70" y1="275.70" x2="246.90" y2="275.70" stroke="#1a1a1a" stroke-width="1.1" />
<line x1="241.70" y1="295.00" x2="246.90" y2="295.00" stroke="#1a1a1a" stroke-width="1.1" />
<line x1="250.90" y1="280.30" x2="250.90" y2="294.10" stroke="#1a1a1a" stroke-width="1.1" />
<line x1="248.30" y1="280.30" x2="253.50" y2="280.30" stroke="#1a1a1a" stroke-width="1.1" />
<line x1="248.30" y1="294.10" x2="253.50" y2="294.10" stroke="#1a1a1a" stroke-width="1.1" />
<line x1="259.50" y1="274.70" x2="259.50" y2="287.20" stroke="#1a1a1a" stroke-width="1.1" />
<line x1="256.90" y1="274.70" x2="262.10" y2="274.70" stroke="#1a1a1a" stroke-width="1.1" />
<line x1="256.90" y1="287.20" x2="262.10" y2="287.20" stroke="#1a1a1a" stroke-width="1.1" />
<line x1="265.50" y1="275.70" x2="265.50" y2="285.00" stroke="#1a1a1a" stroke-width="1.1" />
<line x1="262.90" y1="275.70" x2="268.10" y2="275.70" stroke="#1a1a1a" stroke-width="1.1" />
<line x1="262.90" y1="285.00" x2="268.10" y2="285.00" stroke="#1a1a1a" stroke-width="1.1" />
<line x1="281.00" y1="286.40" x2="281.00" y2="295.90" stroke="#1a1a1a" stroke-width="1.1" />
<line x1="278.40" y1="286.40" x2="283.60" y2="286.40" stroke="#1a1a1a" stroke-width="1.1" />
<line x1="278.40" y1="295.90" x2="283.60" y2="295.90" stroke="#1a1a1a" stroke-width="1.1" />
<line x1="271.00" y1="286.00" x2="271.00" y2="293.00" stroke="#1a1a1a" stroke-width="1.1" />
<line x1="268.40" y1="286.00" x2="273.60" y2="286.00" stroke="#1a1a1a" stroke-width="1.1" />
<line x1="268.40" y1="293.00" x2="273.60" y2="293.00" stroke="#1a1a1a" stroke-width="1.1" />
<line x1="235.50" y1="300.50" x2="235.50" y2="319.75" stroke="#1a1a1a" stroke-width="1.1" />
<line x1="232.90" y1="300.50" x2="238.10" y2="300.50" stroke="#1a1a1a" stroke-width="1.1" />
<line x1="232.90" y1="319.75" x2="238.10" y2="319.75" stroke="#1a1a1a" stroke-width="1.1" />
<line x1="235.30" y1="255.30" x2="235.30" y2="264.80" stroke="#1a1a1a" stroke-width="1.1" />
<line x1="232.70" y1="255.30" x2="237.90" y2="255.30" stroke="#1a1a1a" stroke-width="1.1" />
<line x1="232.70" y1="264.80" x2="237.90" y2="264.80" stroke="#1a1a1a" stroke-width="1.1" />
<line x1="244.00" y1="255.30" x2="244.00" y2="264.80" stroke="#1a1a1a" stroke-width="1.1" />
<line x1="241.40" y1="255.30" x2="246.60" y2="255.30" stroke="#1a1a1a" stroke-width="1.1" />
<line x1="241.40" y1="264.80" x2="246.60" y2="264.80" stroke="#1a1a1a" stroke-width="1.1" />
<line x1="250.90" y1="252.80" x2="250.90" y2="262.20" stroke="#1a1a1a" stroke-width="1.1" />
<line x1="248.30" y1="252.80" x2="253.50" y2="252.80" stroke="#1a1a1a" stroke-width="1.1" />
<line x1="248.30" y1="262.20" x2="253.50" y2="262.20" stroke="#1a1a1a" stroke-width="1.1" />
<line x1="266.40" y1="252.80" x2="266.40" y2="271.70" stroke="#1a1a1a" stroke-width="1.1" />
<line x1="263.80" y1="252.80" x2="269.00" y2="252.80" stroke="#1a1a1a" stroke-width="1.1" />
<line x1="263.80" y1="271.70" x2="269.00" y2="271.70" stroke="#1a1a1a" stroke-width="1.1" />
<line x1="269.00" y1="255.30" x2="269.00" y2="271.70" stroke="#1a1a1a" stroke-width="1.1" />
<line x1="266.40" y1="255.30" x2="271.60" y2="255.30" stroke="#1a1a1a" stroke-width="1.1" />
<line x1="266.40" y1="271.70" x2="271.60" y2="271.70" stroke="#1a1a1a" stroke-width="1.1" />
<line x1="281.90" y1="256.20" x2="281.90" y2="265.70" stroke="#1a1a1a" stroke-width="1.1" />
<line x1="279.30" y1="256.20" x2="284.50" y2="256.20" stroke="#1a1a1a" stroke-width="1.1" />
<line x1="279.30" y1="265.70" x2="284.50" y2="265.70" stroke="#1a1a1a" stroke-width="1.1" />
<polyline points="177.10,274.40 179.00,280.00 181.00,287.00 183.00,292.00 185.00,293.00 187.00,292.00 190.00,290.00 192.00,283.00 194.00,276.00 198.70,274.00 204.80,274.50 209.10,274.50 213.40,274.50 219.40,279.70 224.60,290.50 235.50,309.75 244.50,310.50" fill="none" stroke="#1a1a1a" stroke-width="1.25" stroke-linejoin="miter"/>
<circle cx="177.10" cy="274.40" r="2.7" fill="none" stroke="#1a1a1a" stroke-width="1.1"/>
<circle cx="179.00" cy="280.00" r="2.7" fill="none" stroke="#1a1a1a" stroke-width="1.1"/>
<circle cx="181.00" cy="287.00" r="2.7" fill="none" stroke="#1a1a1a" stroke-width="1.1"/>
<circle cx="183.00" cy="292.00" r="2.7" fill="none" stroke="#1a1a1a" stroke-width="1.1"/>
<circle cx="185.00" cy="293.00" r="2.7" fill="none" stroke="#1a1a1a" stroke-width="1.1"/>
<circle cx="187.00" cy="292.00" r="2.7" fill="none" stroke="#1a1a1a" stroke-width="1.1"/>
<circle cx="190.00" cy="290.00" r="2.7" fill="none" stroke="#1a1a1a" stroke-width="1.1"/>
<circle cx="192.00" cy="283.00" r="2.7" fill="none" stroke="#1a1a1a" stroke-width="1.1"/>
<circle cx="194.00" cy="276.00" r="2.7" fill="none" stroke="#1a1a1a" stroke-width="1.1"/>
<circle cx="198.70" cy="274.00" r="2.7" fill="none" stroke="#1a1a1a" stroke-width="1.1"/>
<circle cx="204.80" cy="274.50" r="2.7" fill="none" stroke="#1a1a1a" stroke-width="1.1"/>
<circle cx="209.10" cy="274.50" r="2.7" fill="none" stroke="#1a1a1a" stroke-width="1.1"/>
<circle cx="213.40" cy="274.50" r="2.7" fill="none" stroke="#1a1a1a" stroke-width="1.1"/>
<circle cx="219.40" cy="279.70" r="2.7" fill="none" stroke="#1a1a1a" stroke-width="1.1"/>
<circle cx="224.60" cy="290.50" r="2.7" fill="none" stroke="#1a1a1a" stroke-width="1.1"/>
<circle cx="235.50" cy="309.75" r="2.7" fill="none" stroke="#1a1a1a" stroke-width="1.1"/>
<circle cx="244.50" cy="310.50" r="2.7" fill="none" stroke="#1a1a1a" stroke-width="1.1"/>
<polyline points="177.10,274.40 179.00,283.00 181.00,288.00 183.00,291.00 185.00,291.00 187.00,289.00 190.00,285.00 192.50,276.00 194.40,272.00 198.70,268.10 204.80,266.40 209.10,262.90 213.40,261.20 219.40,260.30 224.60,259.50 229.80,261.20 235.30,260.50 244.00,260.50 250.90,257.90 255.20,257.10 259.50,256.20 266.40,260.90 269.00,262.20 281.90,260.50 283.60,261.40" fill="none" stroke="#1a1a1a" stroke-width="1.25" stroke-linejoin="miter"/>
<path d="M177.10,271.75 L178.95,274.40 L177.10,277.05 L175.25,274.40 Z" fill="none" stroke="#1a1a1a" stroke-width="0.95" stroke-linejoin="round"/>
<path d="M179.00,280.35 L180.85,283.00 L179.00,285.65 L177.15,283.00 Z" fill="none" stroke="#1a1a1a" stroke-width="0.95" stroke-linejoin="round"/>
<path d="M181.00,285.35 L182.85,288.00 L181.00,290.65 L179.15,288.00 Z" fill="none" stroke="#1a1a1a" stroke-width="0.95" stroke-linejoin="round"/>
<path d="M183.00,288.35 L184.85,291.00 L183.00,293.65 L181.15,291.00 Z" fill="none" stroke="#1a1a1a" stroke-width="0.95" stroke-linejoin="round"/>
<path d="M185.00,288.35 L186.85,291.00 L185.00,293.65 L183.15,291.00 Z" fill="none" stroke="#1a1a1a" stroke-width="0.95" stroke-linejoin="round"/>
<path d="M187.00,286.35 L188.85,289.00 L187.00,291.65 L185.15,289.00 Z" fill="none" stroke="#1a1a1a" stroke-width="0.95" stroke-linejoin="round"/>
<path d="M190.00,282.35 L191.85,285.00 L190.00,287.65 L188.15,285.00 Z" fill="none" stroke="#1a1a1a" stroke-width="0.95" stroke-linejoin="round"/>
<path d="M192.50,273.35 L194.35,276.00 L192.50,278.65 L190.65,276.00 Z" fill="none" stroke="#1a1a1a" stroke-width="0.95" stroke-linejoin="round"/>
<path d="M194.40,269.35 L196.25,272.00 L194.40,274.65 L192.55,272.00 Z" fill="none" stroke="#1a1a1a" stroke-width="0.95" stroke-linejoin="round"/>
<path d="M198.70,265.45 L200.55,268.10 L198.70,270.75 L196.85,268.10 Z" fill="none" stroke="#1a1a1a" stroke-width="0.95" stroke-linejoin="round"/>
<path d="M204.80,263.75 L206.65,266.40 L204.80,269.05 L202.95,266.40 Z" fill="none" stroke="#1a1a1a" stroke-width="0.95" stroke-linejoin="round"/>
<path d="M209.10,260.25 L210.95,262.90 L209.10,265.55 L207.25,262.90 Z" fill="none" stroke="#1a1a1a" stroke-width="0.95" stroke-linejoin="round"/>
<path d="M213.40,258.55 L215.25,261.20 L213.40,263.85 L211.55,261.20 Z" fill="none" stroke="#1a1a1a" stroke-width="0.95" stroke-linejoin="round"/>
<path d="M219.40,257.65 L221.25,260.30 L219.40,262.95 L217.55,260.30 Z" fill="none" stroke="#1a1a1a" stroke-width="0.95" stroke-linejoin="round"/>
<path d="M224.60,256.85 L226.45,259.50 L224.60,262.15 L222.75,259.50 Z" fill="none" stroke="#1a1a1a" stroke-width="0.95" stroke-linejoin="round"/>
<path d="M229.80,258.55 L231.65,261.20 L229.80,263.85 L227.95,261.20 Z" fill="none" stroke="#1a1a1a" stroke-width="0.95" stroke-linejoin="round"/>
<path d="M235.30,257.85 L237.15,260.50 L235.30,263.15 L233.45,260.50 Z" fill="none" stroke="#1a1a1a" stroke-width="0.95" stroke-linejoin="round"/>
<path d="M244.00,257.85 L245.85,260.50 L244.00,263.15 L242.15,260.50 Z" fill="none" stroke="#1a1a1a" stroke-width="0.95" stroke-linejoin="round"/>
<path d="M250.90,255.25 L252.75,257.90 L250.90,260.55 L249.05,257.90 Z" fill="none" stroke="#1a1a1a" stroke-width="0.95" stroke-linejoin="round"/>
<path d="M255.20,254.45 L257.05,257.10 L255.20,259.75 L253.35,257.10 Z" fill="none" stroke="#1a1a1a" stroke-width="0.95" stroke-linejoin="round"/>
<path d="M259.50,253.55 L261.35,256.20 L259.50,258.85 L257.65,256.20 Z" fill="none" stroke="#1a1a1a" stroke-width="0.95" stroke-linejoin="round"/>
<path d="M266.40,258.25 L268.25,260.90 L266.40,263.55 L264.55,260.90 Z" fill="none" stroke="#1a1a1a" stroke-width="0.95" stroke-linejoin="round"/>
<path d="M269.00,259.55 L270.85,262.20 L269.00,264.85 L267.15,262.20 Z" fill="none" stroke="#1a1a1a" stroke-width="0.95" stroke-linejoin="round"/>
<path d="M281.90,257.85 L283.75,260.50 L281.90,263.15 L280.05,260.50 Z" fill="none" stroke="#1a1a1a" stroke-width="0.95" stroke-linejoin="round"/>
<path d="M283.60,258.75 L285.45,261.40 L283.60,264.05 L281.75,261.40 Z" fill="none" stroke="#1a1a1a" stroke-width="0.95" stroke-linejoin="round"/>
<polyline points="177.10,274.40 178.90,278.30 180.70,286.40 182.30,292.10 184.60,294.00 186.90,293.50 189.40,292.50 191.50,286.00 193.20,279.50 194.60,275.00 198.70,275.00 204.80,275.50 209.10,274.10 213.40,273.80 219.40,272.40 224.60,266.40 235.30,270.50 244.30,285.00 250.90,287.80 255.20,289.00 259.50,281.20 265.50,280.30 268.10,289.00 270.70,290.20 281.00,290.70 283.30,294.10" fill="none" stroke="#1a1a1a" stroke-width="1.25" stroke-linejoin="miter"/>
<rect x="174.60" y="271.90" width="5.0" height="5.0" fill="#000"/>
<rect x="176.40" y="275.80" width="5.0" height="5.0" fill="#000"/>
<rect x="178.20" y="283.90" width="5.0" height="5.0" fill="#000"/>
<rect x="179.80" y="289.60" width="5.0" height="5.0" fill="#000"/>
<rect x="182.10" y="291.50" width="5.0" height="5.0" fill="#000"/>
<rect x="184.40" y="291.00" width="5.0" height="5.0" fill="#000"/>
<rect x="186.90" y="290.00" width="5.0" height="5.0" fill="#000"/>
<rect x="189.00" y="283.50" width="5.0" height="5.0" fill="#000"/>
<rect x="190.70" y="277.00" width="5.0" height="5.0" fill="#000"/>
<rect x="192.10" y="272.50" width="5.0" height="5.0" fill="#000"/>
<rect x="196.20" y="272.50" width="5.0" height="5.0" fill="#000"/>
<rect x="202.30" y="273.00" width="5.0" height="5.0" fill="#000"/>
<rect x="206.60" y="271.60" width="5.0" height="5.0" fill="#000"/>
<rect x="210.90" y="271.30" width="5.0" height="5.0" fill="#000"/>
<rect x="216.90" y="269.90" width="5.0" height="5.0" fill="#000"/>
<rect x="222.10" y="263.90" width="5.0" height="5.0" fill="#000"/>
<rect x="232.80" y="268.00" width="5.0" height="5.0" fill="#000"/>
<rect x="241.80" y="282.50" width="5.0" height="5.0" fill="#000"/>
<rect x="248.40" y="285.30" width="5.0" height="5.0" fill="#000"/>
<rect x="252.70" y="286.50" width="5.0" height="5.0" fill="#000"/>
<rect x="257.00" y="278.70" width="5.0" height="5.0" fill="#000"/>
<rect x="263.00" y="277.80" width="5.0" height="5.0" fill="#000"/>
<rect x="265.60" y="286.50" width="5.0" height="5.0" fill="#000"/>
<rect x="268.20" y="287.70" width="5.0" height="5.0" fill="#000"/>
<rect x="278.50" y="288.20" width="5.0" height="5.0" fill="#000"/>
<rect x="280.80" y="291.60" width="5.0" height="5.0" fill="#000"/>
<line x1="364.00" y1="274.00" x2="364.00" y2="283.00" stroke="#1a1a1a" stroke-width="1.1" />
<line x1="361.40" y1="274.00" x2="366.60" y2="274.00" stroke="#1a1a1a" stroke-width="1.1" />
<line x1="361.40" y1="283.00" x2="366.60" y2="283.00" stroke="#1a1a1a" stroke-width="1.1" />
<line x1="378.00" y1="269.00" x2="378.00" y2="281.10" stroke="#1a1a1a" stroke-width="1.1" />
<line x1="375.40" y1="269.00" x2="380.60" y2="269.00" stroke="#1a1a1a" stroke-width="1.1" />
<line x1="375.40" y1="281.10" x2="380.60" y2="281.10" stroke="#1a1a1a" stroke-width="1.1" />
<line x1="383.10" y1="266.00" x2="383.10" y2="280.10" stroke="#1a1a1a" stroke-width="1.1" />
<line x1="380.50" y1="266.00" x2="385.70" y2="266.00" stroke="#1a1a1a" stroke-width="1.1" />
<line x1="380.50" y1="280.10" x2="385.70" y2="280.10" stroke="#1a1a1a" stroke-width="1.1" />
<line x1="373.00" y1="277.00" x2="373.00" y2="284.20" stroke="#1a1a1a" stroke-width="1.1" />
<line x1="370.40" y1="277.00" x2="375.60" y2="277.00" stroke="#1a1a1a" stroke-width="1.1" />
<line x1="370.40" y1="284.20" x2="375.60" y2="284.20" stroke="#1a1a1a" stroke-width="1.1" />
<line x1="349.00" y1="293.00" x2="349.00" y2="302.00" stroke="#1a1a1a" stroke-width="1.1" />
<line x1="346.40" y1="293.00" x2="351.60" y2="293.00" stroke="#1a1a1a" stroke-width="1.1" />
<line x1="346.40" y1="302.00" x2="351.60" y2="302.00" stroke="#1a1a1a" stroke-width="1.1" />
<line x1="352.90" y1="290.00" x2="352.90" y2="299.00" stroke="#1a1a1a" stroke-width="1.1" />
<line x1="350.30" y1="290.00" x2="355.50" y2="290.00" stroke="#1a1a1a" stroke-width="1.1" />
<line x1="350.30" y1="299.00" x2="355.50" y2="299.00" stroke="#1a1a1a" stroke-width="1.1" />
<line x1="338.80" y1="301.60" x2="338.80" y2="306.40" stroke="#1a1a1a" stroke-width="1.1" />
<line x1="336.20" y1="301.60" x2="341.40" y2="301.60" stroke="#1a1a1a" stroke-width="1.1" />
<line x1="336.20" y1="306.40" x2="341.40" y2="306.40" stroke="#1a1a1a" stroke-width="1.1" />
<polyline points="319.00,322.90 323.00,322.90 327.20,322.90 333.60,315.80 338.20,310.50 342.80,308.20 349.00,309.40 353.60,301.30 364.00,303.60 373.00,308.30 380.10,307.30 384.10,306.70 387.70,305.30 394.20,301.90 399.20,300.30 402.20,300.30 412.70,301.90 417.30,301.90 426.40,296.20" fill="none" stroke="#1a1a1a" stroke-width="1.25" stroke-linejoin="miter"/>
<rect x="316.50" y="320.40" width="5.0" height="5.0" fill="#000"/>
<rect x="320.50" y="320.40" width="5.0" height="5.0" fill="#000"/>
<rect x="324.70" y="320.40" width="5.0" height="5.0" fill="#000"/>
<rect x="331.10" y="313.30" width="5.0" height="5.0" fill="#000"/>
<rect x="335.70" y="308.00" width="5.0" height="5.0" fill="#000"/>
<rect x="340.30" y="305.70" width="5.0" height="5.0" fill="#000"/>
<rect x="346.50" y="306.90" width="5.0" height="5.0" fill="#000"/>
<rect x="351.10" y="298.80" width="5.0" height="5.0" fill="#000"/>
<rect x="361.50" y="301.10" width="5.0" height="5.0" fill="#000"/>
<rect x="370.50" y="305.80" width="5.0" height="5.0" fill="#000"/>
<rect x="377.60" y="304.80" width="5.0" height="5.0" fill="#000"/>
<rect x="381.60" y="304.20" width="5.0" height="5.0" fill="#000"/>
<rect x="385.20" y="302.80" width="5.0" height="5.0" fill="#000"/>
<rect x="391.70" y="299.40" width="5.0" height="5.0" fill="#000"/>
<rect x="396.70" y="297.80" width="5.0" height="5.0" fill="#000"/>
<rect x="399.70" y="297.80" width="5.0" height="5.0" fill="#000"/>
<rect x="410.20" y="299.40" width="5.0" height="5.0" fill="#000"/>
<rect x="414.80" y="299.40" width="5.0" height="5.0" fill="#000"/>
<rect x="423.90" y="293.70" width="5.0" height="5.0" fill="#000"/>
<polyline points="319.00,322.90 323.00,322.90 327.00,322.90 333.60,311.70 337.50,305.90 342.10,305.20 349.00,298.30 352.90,294.40 364.00,278.30 373.20,280.20 378.50,275.50 383.50,273.10 388.30,273.10" fill="none" stroke="#1a1a1a" stroke-width="1.25" stroke-linejoin="miter"/>
<circle cx="319.00" cy="322.90" r="2.7" fill="none" stroke="#1a1a1a" stroke-width="1.1"/>
<circle cx="323.00" cy="322.90" r="2.7" fill="none" stroke="#1a1a1a" stroke-width="1.1"/>
<circle cx="327.00" cy="322.90" r="2.7" fill="none" stroke="#1a1a1a" stroke-width="1.1"/>
<circle cx="333.60" cy="311.70" r="2.7" fill="none" stroke="#1a1a1a" stroke-width="1.1"/>
<circle cx="337.50" cy="305.90" r="2.7" fill="none" stroke="#1a1a1a" stroke-width="1.1"/>
<circle cx="342.10" cy="305.20" r="2.7" fill="none" stroke="#1a1a1a" stroke-width="1.1"/>
<circle cx="349.00" cy="298.30" r="2.7" fill="none" stroke="#1a1a1a" stroke-width="1.1"/>
<circle cx="352.90" cy="294.40" r="2.7" fill="none" stroke="#1a1a1a" stroke-width="1.1"/>
<circle cx="364.00" cy="278.30" r="2.7" fill="none" stroke="#1a1a1a" stroke-width="1.1"/>
<circle cx="373.20" cy="280.20" r="2.7" fill="none" stroke="#1a1a1a" stroke-width="1.1"/>
<circle cx="378.50" cy="275.50" r="2.7" fill="none" stroke="#1a1a1a" stroke-width="1.1"/>
<circle cx="383.50" cy="273.10" r="2.7" fill="none" stroke="#1a1a1a" stroke-width="1.1"/>
<circle cx="388.30" cy="273.10" r="2.7" fill="none" stroke="#1a1a1a" stroke-width="1.1"/>
<polyline points="319.00,322.90 323.00,322.90 327.20,322.90 333.60,316.00 337.50,311.70 342.10,317.40 349.00,310.50 352.90,312.80 364.00,313.50 372.20,318.20 379.00,323.10 383.70,323.10 387.70,323.10 394.20,323.10 398.20,323.10 402.20,323.10 412.70,323.10 417.30,323.10 426.40,323.10" fill="none" stroke="#1a1a1a" stroke-width="1.25" stroke-linejoin="miter"/>
<path d="M319.00,320.25 L320.85,322.90 L319.00,325.55 L317.15,322.90 Z" fill="none" stroke="#1a1a1a" stroke-width="0.95" stroke-linejoin="round"/>
<path d="M323.00,320.25 L324.85,322.90 L323.00,325.55 L321.15,322.90 Z" fill="none" stroke="#1a1a1a" stroke-width="0.95" stroke-linejoin="round"/>
<path d="M327.20,320.25 L329.05,322.90 L327.20,325.55 L325.35,322.90 Z" fill="none" stroke="#1a1a1a" stroke-width="0.95" stroke-linejoin="round"/>
<path d="M333.60,313.35 L335.45,316.00 L333.60,318.65 L331.75,316.00 Z" fill="none" stroke="#1a1a1a" stroke-width="0.95" stroke-linejoin="round"/>
<path d="M337.50,309.05 L339.35,311.70 L337.50,314.35 L335.65,311.70 Z" fill="none" stroke="#1a1a1a" stroke-width="0.95" stroke-linejoin="round"/>
<path d="M342.10,314.75 L343.95,317.40 L342.10,320.05 L340.25,317.40 Z" fill="none" stroke="#1a1a1a" stroke-width="0.95" stroke-linejoin="round"/>
<path d="M349.00,307.85 L350.85,310.50 L349.00,313.15 L347.15,310.50 Z" fill="none" stroke="#1a1a1a" stroke-width="0.95" stroke-linejoin="round"/>
<path d="M352.90,310.15 L354.75,312.80 L352.90,315.45 L351.05,312.80 Z" fill="none" stroke="#1a1a1a" stroke-width="0.95" stroke-linejoin="round"/>
<path d="M364.00,310.85 L365.85,313.50 L364.00,316.15 L362.15,313.50 Z" fill="none" stroke="#1a1a1a" stroke-width="0.95" stroke-linejoin="round"/>
<path d="M372.20,315.55 L374.05,318.20 L372.20,320.85 L370.35,318.20 Z" fill="none" stroke="#1a1a1a" stroke-width="0.95" stroke-linejoin="round"/>
<path d="M379.00,320.45 L380.85,323.10 L379.00,325.75 L377.15,323.10 Z" fill="none" stroke="#1a1a1a" stroke-width="0.95" stroke-linejoin="round"/>
<path d="M383.70,320.45 L385.55,323.10 L383.70,325.75 L381.85,323.10 Z" fill="none" stroke="#1a1a1a" stroke-width="0.95" stroke-linejoin="round"/>
<path d="M387.70,320.45 L389.55,323.10 L387.70,325.75 L385.85,323.10 Z" fill="none" stroke="#1a1a1a" stroke-width="0.95" stroke-linejoin="round"/>
<path d="M394.20,320.45 L396.05,323.10 L394.20,325.75 L392.35,323.10 Z" fill="none" stroke="#1a1a1a" stroke-width="0.95" stroke-linejoin="round"/>
<path d="M398.20,320.45 L400.05,323.10 L398.20,325.75 L396.35,323.10 Z" fill="none" stroke="#1a1a1a" stroke-width="0.95" stroke-linejoin="round"/>
<path d="M402.20,320.45 L404.05,323.10 L402.20,325.75 L400.35,323.10 Z" fill="none" stroke="#1a1a1a" stroke-width="0.95" stroke-linejoin="round"/>
<path d="M412.70,320.45 L414.55,323.10 L412.70,325.75 L410.85,323.10 Z" fill="none" stroke="#1a1a1a" stroke-width="0.95" stroke-linejoin="round"/>
<path d="M417.30,320.45 L419.15,323.10 L417.30,325.75 L415.45,323.10 Z" fill="none" stroke="#1a1a1a" stroke-width="0.95" stroke-linejoin="round"/>
<path d="M426.40,320.45 L428.25,323.10 L426.40,325.75 L424.55,323.10 Z" fill="none" stroke="#1a1a1a" stroke-width="0.95" stroke-linejoin="round"/>
<text transform="translate(448.60 22.90)" font-size="10.0" text-anchor="start" font-weight="normal" fill="#1a1a1a" stroke="#1a1a1a" stroke-width="0.3" >B6</text>
<line x1="461.40" y1="19.20" x2="469.20" y2="19.20" stroke="#1a1a1a" stroke-width="1.15" />
<path d="M466.20,16.00 L469.80,19.20 L466.20,22.40" fill="none" stroke="#1a1a1a" stroke-width="1.25" stroke-linejoin="miter"/>
<text transform="translate(471.40 22.90)" font-size="10.0" text-anchor="start" font-weight="normal" fill="#1a1a1a" stroke="#1a1a1a" stroke-width="0.3" >Balb/c</text>
<rect x="430.00" y="27.50" width="84.60" height="36.50" fill="none" stroke="#3a3a3a" stroke-width="1.1"/>
<line x1="433.00" y1="36.50" x2="443.00" y2="36.50" stroke="#1a1a1a" stroke-width="1.6" />
<path d="M438.00,33.50 L440.20,36.50 L438.00,39.50 L435.80,36.50 Z" fill="none" stroke="#1a1a1a" stroke-width="1.0" stroke-linejoin="round"/>
<text transform="translate(448.40 39.50)" font-size="8.4" text-anchor="start" font-weight="normal" fill="#1a1a1a" stroke="#1a1a1a" stroke-width="0.3" >TCD BM alone</text>
<line x1="433.00" y1="46.10" x2="443.00" y2="46.10" stroke="#1a1a1a" stroke-width="1.6" />
<circle cx="438.00" cy="46.10" r="2.8" fill="none" stroke="#1a1a1a" stroke-width="1.0"/>
<text transform="translate(448.40 49.10)" font-size="8.4" text-anchor="start" font-weight="normal" fill="#1a1a1a" stroke="#1a1a1a" stroke-width="0.3" >CD8 + IgG</text>
<line x1="433.00" y1="55.70" x2="443.00" y2="55.70" stroke="#1a1a1a" stroke-width="1.6" />
<rect x="435.30" y="53.00" width="5.4" height="5.4" fill="#000"/>
<text transform="translate(448.40 58.70)" font-size="8.4" text-anchor="start" font-weight="normal" fill="#1a1a1a" stroke="#1a1a1a" stroke-width="0.3" >CD8 + <tspan font-family="Liberation Serif, serif" font-size="9.8">α</tspan>NKG2D</text>
<text transform="translate(448.60 140.80)" font-size="10.0" text-anchor="start" font-weight="normal" fill="#1a1a1a" stroke="#1a1a1a" stroke-width="0.3" >B6</text>
<line x1="461.40" y1="137.10" x2="469.20" y2="137.10" stroke="#1a1a1a" stroke-width="1.15" />
<path d="M466.20,133.90 L469.80,137.10 L466.20,140.30" fill="none" stroke="#1a1a1a" stroke-width="1.25" stroke-linejoin="miter"/>
<text transform="translate(471.40 140.80)" font-size="10.0" text-anchor="start" font-weight="normal" fill="#1a1a1a" stroke="#1a1a1a" stroke-width="0.3" >Balb/c</text>
<rect x="430.00" y="145.40" width="84.60" height="36.60" fill="none" stroke="#3a3a3a" stroke-width="1.1"/>
<line x1="433.40" y1="154.30" x2="443.40" y2="154.30" stroke="#1a1a1a" stroke-width="1.6" />
<path d="M438.40,151.30 L440.60,154.30 L438.40,157.30 L436.20,154.30 Z" fill="none" stroke="#1a1a1a" stroke-width="1.0" stroke-linejoin="round"/>
<text transform="translate(448.60 157.30)" font-size="8.4" text-anchor="start" font-weight="normal" fill="#1a1a1a" stroke="#1a1a1a" stroke-width="0.3" >TCD BM alone</text>
<line x1="433.40" y1="163.80" x2="443.40" y2="163.80" stroke="#1a1a1a" stroke-width="1.6" />
<circle cx="438.40" cy="163.80" r="2.8" fill="none" stroke="#1a1a1a" stroke-width="1.0"/>
<text transform="translate(448.60 166.80)" font-size="8.4" text-anchor="start" font-weight="normal" fill="#1a1a1a" stroke="#1a1a1a" stroke-width="0.3" >WT CD8</text>
<line x1="433.40" y1="173.40" x2="443.40" y2="173.40" stroke="#1a1a1a" stroke-width="1.6" />
<rect x="435.70" y="170.70" width="5.4" height="5.4" fill="#000"/>
<text transform="translate(448.60 176.40)" font-size="8.4" text-anchor="start" font-weight="normal" fill="#1a1a1a" stroke="#1a1a1a" stroke-width="0.3" >NKG2D KO CD8</text>
<text transform="translate(442.90 260.60)" font-size="10.2" text-anchor="start" font-weight="normal" fill="#1a1a1a" stroke="#1a1a1a" stroke-width="0.3" >C3H.SW</text>
<line x1="482.80" y1="256.90" x2="490.30" y2="256.90" stroke="#1a1a1a" stroke-width="1.15" />
<path d="M487.30,253.70 L490.90,256.90 L487.30,260.10" fill="none" stroke="#1a1a1a" stroke-width="1.25" stroke-linejoin="miter"/>
<text transform="translate(492.10 260.60)" font-size="10.2" text-anchor="start" font-weight="normal" fill="#1a1a1a" stroke="#1a1a1a" stroke-width="0.3" >B6</text>
<rect x="434.50" y="265.30" width="84.30" height="37.00" fill="none" stroke="#3a3a3a" stroke-width="1.1"/>
<line x1="437.80" y1="274.60" x2="447.80" y2="274.60" stroke="#1a1a1a" stroke-width="1.6" />
<path d="M442.80,271.60 L445.00,274.60 L442.80,277.60 L440.60,274.60 Z" fill="none" stroke="#1a1a1a" stroke-width="1.0" stroke-linejoin="round"/>
<text transform="translate(452.60 277.60)" font-size="8.4" text-anchor="start" font-weight="normal" fill="#1a1a1a" stroke="#1a1a1a" stroke-width="0.3" >TCD BM alone</text>
<line x1="437.80" y1="284.00" x2="447.80" y2="284.00" stroke="#1a1a1a" stroke-width="1.6" />
<circle cx="442.80" cy="284.00" r="2.8" fill="none" stroke="#1a1a1a" stroke-width="1.0"/>
<text transform="translate(452.60 287.00)" font-size="8.4" text-anchor="start" font-weight="normal" fill="#1a1a1a" stroke="#1a1a1a" stroke-width="0.3" >CD8 + IgG</text>
<line x1="437.80" y1="293.60" x2="447.80" y2="293.60" stroke="#1a1a1a" stroke-width="1.6" />
<rect x="440.10" y="290.90" width="5.4" height="5.4" fill="#000"/>
<text transform="translate(452.60 296.60)" font-size="8.4" text-anchor="start" font-weight="normal" fill="#1a1a1a" stroke="#1a1a1a" stroke-width="0.3" >CD8 + <tspan font-family="Liberation Serif, serif" font-size="9.8">α</tspan>NKG2D</text>
</svg></body></html>
